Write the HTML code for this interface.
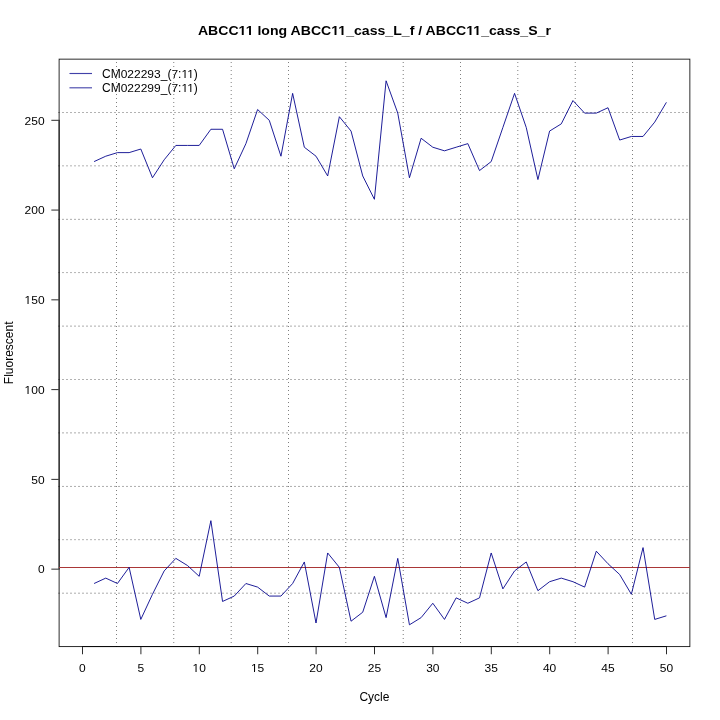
<!DOCTYPE html>
<html><head><meta charset="utf-8"><style>
html,body{margin:0;padding:0;background:#fff;}
svg{display:block;will-change:transform;}
text{font-family:"Liberation Sans",sans-serif;}
</style></head><body>
<svg width="720" height="720" viewBox="0 0 720 720">
<rect x="0" y="0" width="720" height="720" fill="#fff"/>
<text transform="translate(374.4,34.7) scale(1,0.93)" text-anchor="middle" font-weight="bold" font-size="14.1">ABCC11 long ABCC11_cass_L_f / ABCC11_cass_S_r</text>
<g shape-rendering="crispEdges"><path fill="#000" fill-opacity="0.025" d="M58 273h2v1h-2zM62 273h2v1h-2zM66 273h2v1h-2zM70 273h2v1h-2zM74 273h2v1h-2zM78 273h2v1h-2zM82 273h2v1h-2zM86 273h2v1h-2zM90 273h2v1h-2zM94 273h2v1h-2zM98 273h2v1h-2zM102 273h2v1h-2zM106 273h2v1h-2zM110 273h2v1h-2zM114 273h2v1h-2zM118 273h2v1h-2zM122 273h2v1h-2zM126 273h2v1h-2zM130 273h2v1h-2zM134 273h2v1h-2zM138 273h2v1h-2zM142 273h2v1h-2zM146 273h2v1h-2zM150 273h2v1h-2zM154 273h2v1h-2zM158 273h2v1h-2zM162 273h2v1h-2zM166 273h2v1h-2zM170 273h2v1h-2zM174 273h2v1h-2zM178 273h2v1h-2zM182 273h2v1h-2zM186 273h2v1h-2zM190 273h2v1h-2zM194 273h2v1h-2zM198 273h2v1h-2zM202 273h2v1h-2zM206 273h2v1h-2zM210 273h2v1h-2zM214 273h2v1h-2zM218 273h2v1h-2zM222 273h2v1h-2zM226 273h2v1h-2zM230 273h2v1h-2zM234 273h2v1h-2zM238 273h2v1h-2zM242 273h2v1h-2zM246 273h2v1h-2zM250 273h2v1h-2zM254 273h2v1h-2zM258 273h2v1h-2zM262 273h2v1h-2zM266 273h2v1h-2zM270 273h2v1h-2zM274 273h2v1h-2zM278 273h2v1h-2zM282 273h2v1h-2zM286 273h2v1h-2zM290 273h2v1h-2zM294 273h2v1h-2zM298 273h2v1h-2zM302 273h2v1h-2zM306 273h2v1h-2zM310 273h2v1h-2zM314 273h2v1h-2zM318 273h2v1h-2zM322 273h2v1h-2zM326 273h2v1h-2zM330 273h2v1h-2zM334 273h2v1h-2zM338 273h2v1h-2zM342 273h2v1h-2zM346 273h2v1h-2zM350 273h2v1h-2zM354 273h2v1h-2zM358 273h2v1h-2zM362 273h2v1h-2zM366 273h2v1h-2zM370 273h2v1h-2zM374 273h2v1h-2zM378 273h2v1h-2zM382 273h2v1h-2zM386 273h2v1h-2zM390 273h2v1h-2zM394 273h2v1h-2zM398 273h2v1h-2zM402 273h2v1h-2zM406 273h2v1h-2zM410 273h2v1h-2zM414 273h2v1h-2zM418 273h2v1h-2zM422 273h2v1h-2zM426 273h2v1h-2zM430 273h2v1h-2zM434 273h2v1h-2zM438 273h2v1h-2zM442 273h2v1h-2zM446 273h2v1h-2zM450 273h2v1h-2zM454 273h2v1h-2zM458 273h2v1h-2zM462 273h2v1h-2zM466 273h2v1h-2zM470 273h2v1h-2zM474 273h2v1h-2zM478 273h2v1h-2zM482 273h2v1h-2zM486 273h2v1h-2zM490 273h2v1h-2zM494 273h2v1h-2zM498 273h2v1h-2zM502 273h2v1h-2zM506 273h2v1h-2zM510 273h2v1h-2zM514 273h2v1h-2zM518 273h2v1h-2zM522 273h2v1h-2zM526 273h2v1h-2zM530 273h2v1h-2zM534 273h2v1h-2zM538 273h2v1h-2zM542 273h2v1h-2zM546 273h2v1h-2zM550 273h2v1h-2zM554 273h2v1h-2zM558 273h2v1h-2zM562 273h2v1h-2zM566 273h2v1h-2zM570 273h2v1h-2zM574 273h2v1h-2zM578 273h2v1h-2zM582 273h2v1h-2zM586 273h2v1h-2zM590 273h2v1h-2zM594 273h2v1h-2zM598 273h2v1h-2zM602 273h2v1h-2zM606 273h2v1h-2zM610 273h2v1h-2zM614 273h2v1h-2zM618 273h2v1h-2zM622 273h2v1h-2zM626 273h2v1h-2zM630 273h2v1h-2zM634 273h2v1h-2zM638 273h2v1h-2zM642 273h2v1h-2zM646 273h2v1h-2zM650 273h2v1h-2zM654 273h2v1h-2zM658 273h2v1h-2zM662 273h2v1h-2zM666 273h2v1h-2zM670 273h2v1h-2zM674 273h2v1h-2zM678 273h2v1h-2zM682 273h2v1h-2zM686 273h2v1h-2zM58 485h2v1h-2zM62 485h2v1h-2zM66 485h2v1h-2zM70 485h2v1h-2zM74 485h2v1h-2zM78 485h2v1h-2zM82 485h2v1h-2zM86 485h2v1h-2zM90 485h2v1h-2zM94 485h2v1h-2zM98 485h2v1h-2zM102 485h2v1h-2zM106 485h2v1h-2zM110 485h2v1h-2zM114 485h2v1h-2zM118 485h2v1h-2zM122 485h2v1h-2zM126 485h2v1h-2zM130 485h2v1h-2zM134 485h2v1h-2zM138 485h2v1h-2zM142 485h2v1h-2zM146 485h2v1h-2zM150 485h2v1h-2zM154 485h2v1h-2zM158 485h2v1h-2zM162 485h2v1h-2zM166 485h2v1h-2zM170 485h2v1h-2zM174 485h2v1h-2zM178 485h2v1h-2zM182 485h2v1h-2zM186 485h2v1h-2zM190 485h2v1h-2zM194 485h2v1h-2zM198 485h2v1h-2zM202 485h2v1h-2zM206 485h2v1h-2zM210 485h2v1h-2zM214 485h2v1h-2zM218 485h2v1h-2zM222 485h2v1h-2zM226 485h2v1h-2zM230 485h2v1h-2zM234 485h2v1h-2zM238 485h2v1h-2zM242 485h2v1h-2zM246 485h2v1h-2zM250 485h2v1h-2zM254 485h2v1h-2zM258 485h2v1h-2zM262 485h2v1h-2zM266 485h2v1h-2zM270 485h2v1h-2zM274 485h2v1h-2zM278 485h2v1h-2zM282 485h2v1h-2zM286 485h2v1h-2zM290 485h2v1h-2zM294 485h2v1h-2zM298 485h2v1h-2zM302 485h2v1h-2zM306 485h2v1h-2zM310 485h2v1h-2zM314 485h2v1h-2zM318 485h2v1h-2zM322 485h2v1h-2zM326 485h2v1h-2zM330 485h2v1h-2zM334 485h2v1h-2zM338 485h2v1h-2zM342 485h2v1h-2zM346 485h2v1h-2zM350 485h2v1h-2zM354 485h2v1h-2zM358 485h2v1h-2zM362 485h2v1h-2zM366 485h2v1h-2zM370 485h2v1h-2zM374 485h2v1h-2zM378 485h2v1h-2zM382 485h2v1h-2zM386 485h2v1h-2zM390 485h2v1h-2zM394 485h2v1h-2zM398 485h2v1h-2zM402 485h2v1h-2zM406 485h2v1h-2zM410 485h2v1h-2zM414 485h2v1h-2zM418 485h2v1h-2zM422 485h2v1h-2zM426 485h2v1h-2zM430 485h2v1h-2zM434 485h2v1h-2zM438 485h2v1h-2zM442 485h2v1h-2zM446 485h2v1h-2zM450 485h2v1h-2zM454 485h2v1h-2zM458 485h2v1h-2zM462 485h2v1h-2zM466 485h2v1h-2zM470 485h2v1h-2zM474 485h2v1h-2zM478 485h2v1h-2zM482 485h2v1h-2zM486 485h2v1h-2zM490 485h2v1h-2zM494 485h2v1h-2zM498 485h2v1h-2zM502 485h2v1h-2zM506 485h2v1h-2zM510 485h2v1h-2zM514 485h2v1h-2zM518 485h2v1h-2zM522 485h2v1h-2zM526 485h2v1h-2zM530 485h2v1h-2zM534 485h2v1h-2zM538 485h2v1h-2zM542 485h2v1h-2zM546 485h2v1h-2zM550 485h2v1h-2zM554 485h2v1h-2zM558 485h2v1h-2zM562 485h2v1h-2zM566 485h2v1h-2zM570 485h2v1h-2zM574 485h2v1h-2zM578 485h2v1h-2zM582 485h2v1h-2zM586 485h2v1h-2zM590 485h2v1h-2zM594 485h2v1h-2zM598 485h2v1h-2zM602 485h2v1h-2zM606 485h2v1h-2zM610 485h2v1h-2zM614 485h2v1h-2zM618 485h2v1h-2zM622 485h2v1h-2zM626 485h2v1h-2zM630 485h2v1h-2zM634 485h2v1h-2zM638 485h2v1h-2zM642 485h2v1h-2zM646 485h2v1h-2zM650 485h2v1h-2zM654 485h2v1h-2zM658 485h2v1h-2zM662 485h2v1h-2zM666 485h2v1h-2zM670 485h2v1h-2zM674 485h2v1h-2zM678 485h2v1h-2zM682 485h2v1h-2zM686 485h2v1h-2z"/><path fill="#000" fill-opacity="0.050" d="M58 218h2v1h-2zM62 218h2v1h-2zM66 218h2v1h-2zM70 218h2v1h-2zM74 218h2v1h-2zM78 218h2v1h-2zM82 218h2v1h-2zM86 218h2v1h-2zM90 218h2v1h-2zM94 218h2v1h-2zM98 218h2v1h-2zM102 218h2v1h-2zM106 218h2v1h-2zM110 218h2v1h-2zM114 218h2v1h-2zM118 218h2v1h-2zM122 218h2v1h-2zM126 218h2v1h-2zM130 218h2v1h-2zM134 218h2v1h-2zM138 218h2v1h-2zM142 218h2v1h-2zM146 218h2v1h-2zM150 218h2v1h-2zM154 218h2v1h-2zM158 218h2v1h-2zM162 218h2v1h-2zM166 218h2v1h-2zM170 218h2v1h-2zM174 218h2v1h-2zM178 218h2v1h-2zM182 218h2v1h-2zM186 218h2v1h-2zM190 218h2v1h-2zM194 218h2v1h-2zM198 218h2v1h-2zM202 218h2v1h-2zM206 218h2v1h-2zM210 218h2v1h-2zM214 218h2v1h-2zM218 218h2v1h-2zM222 218h2v1h-2zM226 218h2v1h-2zM230 218h2v1h-2zM234 218h2v1h-2zM238 218h2v1h-2zM242 218h2v1h-2zM246 218h2v1h-2zM250 218h2v1h-2zM254 218h2v1h-2zM258 218h2v1h-2zM262 218h2v1h-2zM266 218h2v1h-2zM270 218h2v1h-2zM274 218h2v1h-2zM278 218h2v1h-2zM282 218h2v1h-2zM286 218h2v1h-2zM290 218h2v1h-2zM294 218h2v1h-2zM298 218h2v1h-2zM302 218h2v1h-2zM306 218h2v1h-2zM310 218h2v1h-2zM314 218h2v1h-2zM318 218h2v1h-2zM322 218h2v1h-2zM326 218h2v1h-2zM330 218h2v1h-2zM334 218h2v1h-2zM338 218h2v1h-2zM342 218h2v1h-2zM346 218h2v1h-2zM350 218h2v1h-2zM354 218h2v1h-2zM358 218h2v1h-2zM362 218h2v1h-2zM366 218h2v1h-2zM370 218h2v1h-2zM374 218h2v1h-2zM378 218h2v1h-2zM382 218h2v1h-2zM386 218h2v1h-2zM390 218h2v1h-2zM394 218h2v1h-2zM398 218h2v1h-2zM402 218h2v1h-2zM406 218h2v1h-2zM410 218h2v1h-2zM414 218h2v1h-2zM418 218h2v1h-2zM422 218h2v1h-2zM426 218h2v1h-2zM430 218h2v1h-2zM434 218h2v1h-2zM438 218h2v1h-2zM442 218h2v1h-2zM446 218h2v1h-2zM450 218h2v1h-2zM454 218h2v1h-2zM458 218h2v1h-2zM462 218h2v1h-2zM466 218h2v1h-2zM470 218h2v1h-2zM474 218h2v1h-2zM478 218h2v1h-2zM482 218h2v1h-2zM486 218h2v1h-2zM490 218h2v1h-2zM494 218h2v1h-2zM498 218h2v1h-2zM502 218h2v1h-2zM506 218h2v1h-2zM510 218h2v1h-2zM514 218h2v1h-2zM518 218h2v1h-2zM522 218h2v1h-2zM526 218h2v1h-2zM530 218h2v1h-2zM534 218h2v1h-2zM538 218h2v1h-2zM542 218h2v1h-2zM546 218h2v1h-2zM550 218h2v1h-2zM554 218h2v1h-2zM558 218h2v1h-2zM562 218h2v1h-2zM566 218h2v1h-2zM570 218h2v1h-2zM574 218h2v1h-2zM578 218h2v1h-2zM582 218h2v1h-2zM586 218h2v1h-2zM590 218h2v1h-2zM594 218h2v1h-2zM598 218h2v1h-2zM602 218h2v1h-2zM606 218h2v1h-2zM610 218h2v1h-2zM614 218h2v1h-2zM618 218h2v1h-2zM622 218h2v1h-2zM626 218h2v1h-2zM630 218h2v1h-2zM634 218h2v1h-2zM638 218h2v1h-2zM642 218h2v1h-2zM646 218h2v1h-2zM650 218h2v1h-2zM654 218h2v1h-2zM658 218h2v1h-2zM662 218h2v1h-2zM666 218h2v1h-2zM670 218h2v1h-2zM674 218h2v1h-2zM678 218h2v1h-2zM682 218h2v1h-2zM686 218h2v1h-2zM58 540h2v1h-2zM62 540h2v1h-2zM66 540h2v1h-2zM70 540h2v1h-2zM74 540h2v1h-2zM78 540h2v1h-2zM82 540h2v1h-2zM86 540h2v1h-2zM90 540h2v1h-2zM94 540h2v1h-2zM98 540h2v1h-2zM102 540h2v1h-2zM106 540h2v1h-2zM110 540h2v1h-2zM114 540h2v1h-2zM118 540h2v1h-2zM122 540h2v1h-2zM126 540h2v1h-2zM130 540h2v1h-2zM134 540h2v1h-2zM138 540h2v1h-2zM142 540h2v1h-2zM146 540h2v1h-2zM150 540h2v1h-2zM154 540h2v1h-2zM158 540h2v1h-2zM162 540h2v1h-2zM166 540h2v1h-2zM170 540h2v1h-2zM174 540h2v1h-2zM178 540h2v1h-2zM182 540h2v1h-2zM186 540h2v1h-2zM190 540h2v1h-2zM194 540h2v1h-2zM198 540h2v1h-2zM202 540h2v1h-2zM206 540h2v1h-2zM210 540h2v1h-2zM214 540h2v1h-2zM218 540h2v1h-2zM222 540h2v1h-2zM226 540h2v1h-2zM230 540h2v1h-2zM234 540h2v1h-2zM238 540h2v1h-2zM242 540h2v1h-2zM246 540h2v1h-2zM250 540h2v1h-2zM254 540h2v1h-2zM258 540h2v1h-2zM262 540h2v1h-2zM266 540h2v1h-2zM270 540h2v1h-2zM274 540h2v1h-2zM278 540h2v1h-2zM282 540h2v1h-2zM286 540h2v1h-2zM290 540h2v1h-2zM294 540h2v1h-2zM298 540h2v1h-2zM302 540h2v1h-2zM306 540h2v1h-2zM310 540h2v1h-2zM314 540h2v1h-2zM318 540h2v1h-2zM322 540h2v1h-2zM326 540h2v1h-2zM330 540h2v1h-2zM334 540h2v1h-2zM338 540h2v1h-2zM342 540h2v1h-2zM346 540h2v1h-2zM350 540h2v1h-2zM354 540h2v1h-2zM358 540h2v1h-2zM362 540h2v1h-2zM366 540h2v1h-2zM370 540h2v1h-2zM374 540h2v1h-2zM378 540h2v1h-2zM382 540h2v1h-2zM386 540h2v1h-2zM390 540h2v1h-2zM394 540h2v1h-2zM398 540h2v1h-2zM402 540h2v1h-2zM406 540h2v1h-2zM410 540h2v1h-2zM414 540h2v1h-2zM418 540h2v1h-2zM422 540h2v1h-2zM426 540h2v1h-2zM430 540h2v1h-2zM434 540h2v1h-2zM438 540h2v1h-2zM442 540h2v1h-2zM446 540h2v1h-2zM450 540h2v1h-2zM454 540h2v1h-2zM458 540h2v1h-2zM462 540h2v1h-2zM466 540h2v1h-2zM470 540h2v1h-2zM474 540h2v1h-2zM478 540h2v1h-2zM482 540h2v1h-2zM486 540h2v1h-2zM490 540h2v1h-2zM494 540h2v1h-2zM498 540h2v1h-2zM502 540h2v1h-2zM506 540h2v1h-2zM510 540h2v1h-2zM514 540h2v1h-2zM518 540h2v1h-2zM522 540h2v1h-2zM526 540h2v1h-2zM530 540h2v1h-2zM534 540h2v1h-2zM538 540h2v1h-2zM542 540h2v1h-2zM546 540h2v1h-2zM550 540h2v1h-2zM554 540h2v1h-2zM558 540h2v1h-2zM562 540h2v1h-2zM566 540h2v1h-2zM570 540h2v1h-2zM574 540h2v1h-2zM578 540h2v1h-2zM582 540h2v1h-2zM586 540h2v1h-2zM590 540h2v1h-2zM594 540h2v1h-2zM598 540h2v1h-2zM602 540h2v1h-2zM606 540h2v1h-2zM610 540h2v1h-2zM614 540h2v1h-2zM618 540h2v1h-2zM622 540h2v1h-2zM626 540h2v1h-2zM630 540h2v1h-2zM634 540h2v1h-2zM638 540h2v1h-2zM642 540h2v1h-2zM646 540h2v1h-2zM650 540h2v1h-2zM654 540h2v1h-2zM658 540h2v1h-2zM662 540h2v1h-2zM666 540h2v1h-2zM670 540h2v1h-2zM674 540h2v1h-2zM678 540h2v1h-2zM682 540h2v1h-2zM686 540h2v1h-2z"/><path fill="#000" fill-opacity="0.100" d="M58 166h2v1h-2zM62 166h2v1h-2zM66 166h2v1h-2zM70 166h2v1h-2zM74 166h2v1h-2zM78 166h2v1h-2zM82 166h2v1h-2zM86 166h2v1h-2zM90 166h2v1h-2zM94 166h2v1h-2zM98 166h2v1h-2zM102 166h2v1h-2zM106 166h2v1h-2zM110 166h2v1h-2zM114 166h2v1h-2zM118 166h2v1h-2zM122 166h2v1h-2zM126 166h2v1h-2zM130 166h2v1h-2zM134 166h2v1h-2zM138 166h2v1h-2zM142 166h2v1h-2zM146 166h2v1h-2zM150 166h2v1h-2zM154 166h2v1h-2zM158 166h2v1h-2zM162 166h2v1h-2zM166 166h2v1h-2zM170 166h2v1h-2zM174 166h2v1h-2zM178 166h2v1h-2zM182 166h2v1h-2zM186 166h2v1h-2zM190 166h2v1h-2zM194 166h2v1h-2zM198 166h2v1h-2zM202 166h2v1h-2zM206 166h2v1h-2zM210 166h2v1h-2zM214 166h2v1h-2zM218 166h2v1h-2zM222 166h2v1h-2zM226 166h2v1h-2zM230 166h2v1h-2zM234 166h2v1h-2zM238 166h2v1h-2zM242 166h2v1h-2zM246 166h2v1h-2zM250 166h2v1h-2zM254 166h2v1h-2zM258 166h2v1h-2zM262 166h2v1h-2zM266 166h2v1h-2zM270 166h2v1h-2zM274 166h2v1h-2zM278 166h2v1h-2zM282 166h2v1h-2zM286 166h2v1h-2zM290 166h2v1h-2zM294 166h2v1h-2zM298 166h2v1h-2zM302 166h2v1h-2zM306 166h2v1h-2zM310 166h2v1h-2zM314 166h2v1h-2zM318 166h2v1h-2zM322 166h2v1h-2zM326 166h2v1h-2zM330 166h2v1h-2zM334 166h2v1h-2zM338 166h2v1h-2zM342 166h2v1h-2zM346 166h2v1h-2zM350 166h2v1h-2zM354 166h2v1h-2zM358 166h2v1h-2zM362 166h2v1h-2zM366 166h2v1h-2zM370 166h2v1h-2zM374 166h2v1h-2zM378 166h2v1h-2zM382 166h2v1h-2zM386 166h2v1h-2zM390 166h2v1h-2zM394 166h2v1h-2zM398 166h2v1h-2zM402 166h2v1h-2zM406 166h2v1h-2zM410 166h2v1h-2zM414 166h2v1h-2zM418 166h2v1h-2zM422 166h2v1h-2zM426 166h2v1h-2zM430 166h2v1h-2zM434 166h2v1h-2zM438 166h2v1h-2zM442 166h2v1h-2zM446 166h2v1h-2zM450 166h2v1h-2zM454 166h2v1h-2zM458 166h2v1h-2zM462 166h2v1h-2zM466 166h2v1h-2zM470 166h2v1h-2zM474 166h2v1h-2zM478 166h2v1h-2zM482 166h2v1h-2zM486 166h2v1h-2zM490 166h2v1h-2zM494 166h2v1h-2zM498 166h2v1h-2zM502 166h2v1h-2zM506 166h2v1h-2zM510 166h2v1h-2zM514 166h2v1h-2zM518 166h2v1h-2zM522 166h2v1h-2zM526 166h2v1h-2zM530 166h2v1h-2zM534 166h2v1h-2zM538 166h2v1h-2zM542 166h2v1h-2zM546 166h2v1h-2zM550 166h2v1h-2zM554 166h2v1h-2zM558 166h2v1h-2zM562 166h2v1h-2zM566 166h2v1h-2zM570 166h2v1h-2zM574 166h2v1h-2zM578 166h2v1h-2zM582 166h2v1h-2zM586 166h2v1h-2zM590 166h2v1h-2zM594 166h2v1h-2zM598 166h2v1h-2zM602 166h2v1h-2zM606 166h2v1h-2zM610 166h2v1h-2zM614 166h2v1h-2zM618 166h2v1h-2zM622 166h2v1h-2zM626 166h2v1h-2zM630 166h2v1h-2zM634 166h2v1h-2zM638 166h2v1h-2zM642 166h2v1h-2zM646 166h2v1h-2zM650 166h2v1h-2zM654 166h2v1h-2zM658 166h2v1h-2zM662 166h2v1h-2zM666 166h2v1h-2zM670 166h2v1h-2zM674 166h2v1h-2zM678 166h2v1h-2zM682 166h2v1h-2zM686 166h2v1h-2zM58 592h2v1h-2zM62 592h2v1h-2zM66 592h2v1h-2zM70 592h2v1h-2zM74 592h2v1h-2zM78 592h2v1h-2zM82 592h2v1h-2zM86 592h2v1h-2zM90 592h2v1h-2zM94 592h2v1h-2zM98 592h2v1h-2zM102 592h2v1h-2zM106 592h2v1h-2zM110 592h2v1h-2zM114 592h2v1h-2zM118 592h2v1h-2zM122 592h2v1h-2zM126 592h2v1h-2zM130 592h2v1h-2zM134 592h2v1h-2zM138 592h2v1h-2zM142 592h2v1h-2zM146 592h2v1h-2zM150 592h2v1h-2zM154 592h2v1h-2zM158 592h2v1h-2zM162 592h2v1h-2zM166 592h2v1h-2zM170 592h2v1h-2zM174 592h2v1h-2zM178 592h2v1h-2zM182 592h2v1h-2zM186 592h2v1h-2zM190 592h2v1h-2zM194 592h2v1h-2zM198 592h2v1h-2zM202 592h2v1h-2zM206 592h2v1h-2zM210 592h2v1h-2zM214 592h2v1h-2zM218 592h2v1h-2zM222 592h2v1h-2zM226 592h2v1h-2zM230 592h2v1h-2zM234 592h2v1h-2zM238 592h2v1h-2zM242 592h2v1h-2zM246 592h2v1h-2zM250 592h2v1h-2zM254 592h2v1h-2zM258 592h2v1h-2zM262 592h2v1h-2zM266 592h2v1h-2zM270 592h2v1h-2zM274 592h2v1h-2zM278 592h2v1h-2zM282 592h2v1h-2zM286 592h2v1h-2zM290 592h2v1h-2zM294 592h2v1h-2zM298 592h2v1h-2zM302 592h2v1h-2zM306 592h2v1h-2zM310 592h2v1h-2zM314 592h2v1h-2zM318 592h2v1h-2zM322 592h2v1h-2zM326 592h2v1h-2zM330 592h2v1h-2zM334 592h2v1h-2zM338 592h2v1h-2zM342 592h2v1h-2zM346 592h2v1h-2zM350 592h2v1h-2zM354 592h2v1h-2zM358 592h2v1h-2zM362 592h2v1h-2zM366 592h2v1h-2zM370 592h2v1h-2zM374 592h2v1h-2zM378 592h2v1h-2zM382 592h2v1h-2zM386 592h2v1h-2zM390 592h2v1h-2zM394 592h2v1h-2zM398 592h2v1h-2zM402 592h2v1h-2zM406 592h2v1h-2zM410 592h2v1h-2zM414 592h2v1h-2zM418 592h2v1h-2zM422 592h2v1h-2zM426 592h2v1h-2zM430 592h2v1h-2zM434 592h2v1h-2zM438 592h2v1h-2zM442 592h2v1h-2zM446 592h2v1h-2zM450 592h2v1h-2zM454 592h2v1h-2zM458 592h2v1h-2zM462 592h2v1h-2zM466 592h2v1h-2zM470 592h2v1h-2zM474 592h2v1h-2zM478 592h2v1h-2zM482 592h2v1h-2zM486 592h2v1h-2zM490 592h2v1h-2zM494 592h2v1h-2zM498 592h2v1h-2zM502 592h2v1h-2zM506 592h2v1h-2zM510 592h2v1h-2zM514 592h2v1h-2zM518 592h2v1h-2zM522 592h2v1h-2zM526 592h2v1h-2zM530 592h2v1h-2zM534 592h2v1h-2zM538 592h2v1h-2zM542 592h2v1h-2zM546 592h2v1h-2zM550 592h2v1h-2zM554 592h2v1h-2zM558 592h2v1h-2zM562 592h2v1h-2zM566 592h2v1h-2zM570 592h2v1h-2zM574 592h2v1h-2zM578 592h2v1h-2zM582 592h2v1h-2zM586 592h2v1h-2zM590 592h2v1h-2zM594 592h2v1h-2zM598 592h2v1h-2zM602 592h2v1h-2zM606 592h2v1h-2zM610 592h2v1h-2zM614 592h2v1h-2zM618 592h2v1h-2zM622 592h2v1h-2zM626 592h2v1h-2zM630 592h2v1h-2zM634 592h2v1h-2zM638 592h2v1h-2zM642 592h2v1h-2zM646 592h2v1h-2zM650 592h2v1h-2zM654 592h2v1h-2zM658 592h2v1h-2zM662 592h2v1h-2zM666 592h2v1h-2zM670 592h2v1h-2zM674 592h2v1h-2zM678 592h2v1h-2zM682 592h2v1h-2zM686 592h2v1h-2z"/><path fill="#000" fill-opacity="0.125" d="M174 62h1v1h-1zM174 66h1v1h-1zM174 70h1v1h-1zM174 74h1v1h-1zM174 78h1v1h-1zM174 82h1v1h-1zM174 86h1v1h-1zM174 90h1v1h-1zM174 94h1v1h-1zM174 98h1v1h-1zM174 102h1v1h-1zM174 106h1v1h-1zM174 110h1v1h-1zM174 114h1v1h-1zM174 118h1v1h-1zM174 122h1v1h-1zM174 126h1v1h-1zM174 130h1v1h-1zM174 134h1v1h-1zM174 138h1v1h-1zM174 142h1v1h-1zM174 146h1v1h-1zM174 150h1v1h-1zM174 154h1v1h-1zM174 158h1v1h-1zM174 162h1v1h-1zM174 166h1v1h-1zM174 170h1v1h-1zM174 174h1v1h-1zM174 178h1v1h-1zM174 182h1v1h-1zM174 186h1v1h-1zM174 190h1v1h-1zM174 194h1v1h-1zM174 198h1v1h-1zM174 202h1v1h-1zM174 206h1v1h-1zM174 210h1v1h-1zM174 214h1v1h-1zM174 218h1v1h-1zM174 222h1v1h-1zM174 226h1v1h-1zM174 230h1v1h-1zM174 234h1v1h-1zM174 238h1v1h-1zM174 242h1v1h-1zM174 246h1v1h-1zM174 250h1v1h-1zM174 254h1v1h-1zM174 258h1v1h-1zM174 262h1v1h-1zM174 266h1v1h-1zM174 270h1v1h-1zM174 274h1v1h-1zM174 278h1v1h-1zM174 282h1v1h-1zM174 286h1v1h-1zM174 290h1v1h-1zM174 294h1v1h-1zM174 298h1v1h-1zM174 302h1v1h-1zM174 306h1v1h-1zM174 310h1v1h-1zM174 314h1v1h-1zM174 318h1v1h-1zM174 322h1v1h-1zM174 326h1v1h-1zM174 330h1v1h-1zM174 334h1v1h-1zM174 338h1v1h-1zM174 342h1v1h-1zM174 346h1v1h-1zM174 350h1v1h-1zM174 354h1v1h-1zM174 358h1v1h-1zM174 362h1v1h-1zM174 366h1v1h-1zM174 370h1v1h-1zM174 374h1v1h-1zM174 378h1v1h-1zM174 382h1v1h-1zM174 386h1v1h-1zM174 390h1v1h-1zM174 394h1v1h-1zM174 398h1v1h-1zM174 402h1v1h-1zM174 406h1v1h-1zM174 410h1v1h-1zM174 414h1v1h-1zM174 418h1v1h-1zM174 422h1v1h-1zM174 426h1v1h-1zM174 430h1v1h-1zM174 434h1v1h-1zM174 438h1v1h-1zM174 442h1v1h-1zM174 446h1v1h-1zM174 450h1v1h-1zM174 454h1v1h-1zM174 458h1v1h-1zM174 462h1v1h-1zM174 466h1v1h-1zM174 470h1v1h-1zM174 474h1v1h-1zM174 478h1v1h-1zM174 482h1v1h-1zM174 486h1v1h-1zM174 490h1v1h-1zM174 494h1v1h-1zM174 498h1v1h-1zM174 502h1v1h-1zM174 506h1v1h-1zM174 510h1v1h-1zM174 514h1v1h-1zM174 518h1v1h-1zM174 522h1v1h-1zM174 526h1v1h-1zM174 530h1v1h-1zM174 534h1v1h-1zM174 538h1v1h-1zM174 542h1v1h-1zM174 546h1v1h-1zM174 550h1v1h-1zM174 554h1v1h-1zM174 558h1v1h-1zM174 562h1v1h-1zM174 566h1v1h-1zM174 570h1v1h-1zM174 574h1v1h-1zM174 578h1v1h-1zM174 582h1v1h-1zM174 586h1v1h-1zM174 590h1v1h-1zM174 594h1v1h-1zM174 598h1v1h-1zM174 602h1v1h-1zM174 606h1v1h-1zM174 610h1v1h-1zM174 614h1v1h-1zM174 618h1v1h-1zM174 622h1v1h-1zM174 626h1v1h-1zM174 630h1v1h-1zM174 634h1v1h-1zM174 638h1v1h-1zM174 642h1v1h-1zM174 646h1v1h-1zM574 62h1v1h-1zM574 66h1v1h-1zM574 70h1v1h-1zM574 74h1v1h-1zM574 78h1v1h-1zM574 82h1v1h-1zM574 86h1v1h-1zM574 90h1v1h-1zM574 94h1v1h-1zM574 98h1v1h-1zM574 102h1v1h-1zM574 106h1v1h-1zM574 110h1v1h-1zM574 114h1v1h-1zM574 118h1v1h-1zM574 122h1v1h-1zM574 126h1v1h-1zM574 130h1v1h-1zM574 134h1v1h-1zM574 138h1v1h-1zM574 142h1v1h-1zM574 146h1v1h-1zM574 150h1v1h-1zM574 154h1v1h-1zM574 158h1v1h-1zM574 162h1v1h-1zM574 166h1v1h-1zM574 170h1v1h-1zM574 174h1v1h-1zM574 178h1v1h-1zM574 182h1v1h-1zM574 186h1v1h-1zM574 190h1v1h-1zM574 194h1v1h-1zM574 198h1v1h-1zM574 202h1v1h-1zM574 206h1v1h-1zM574 210h1v1h-1zM574 214h1v1h-1zM574 218h1v1h-1zM574 222h1v1h-1zM574 226h1v1h-1zM574 230h1v1h-1zM574 234h1v1h-1zM574 238h1v1h-1zM574 242h1v1h-1zM574 246h1v1h-1zM574 250h1v1h-1zM574 254h1v1h-1zM574 258h1v1h-1zM574 262h1v1h-1zM574 266h1v1h-1zM574 270h1v1h-1zM574 274h1v1h-1zM574 278h1v1h-1zM574 282h1v1h-1zM574 286h1v1h-1zM574 290h1v1h-1zM574 294h1v1h-1zM574 298h1v1h-1zM574 302h1v1h-1zM574 306h1v1h-1zM574 310h1v1h-1zM574 314h1v1h-1zM574 318h1v1h-1zM574 322h1v1h-1zM574 326h1v1h-1zM574 330h1v1h-1zM574 334h1v1h-1zM574 338h1v1h-1zM574 342h1v1h-1zM574 346h1v1h-1zM574 350h1v1h-1zM574 354h1v1h-1zM574 358h1v1h-1zM574 362h1v1h-1zM574 366h1v1h-1zM574 370h1v1h-1zM574 374h1v1h-1zM574 378h1v1h-1zM574 382h1v1h-1zM574 386h1v1h-1zM574 390h1v1h-1zM574 394h1v1h-1zM574 398h1v1h-1zM574 402h1v1h-1zM574 406h1v1h-1zM574 410h1v1h-1zM574 414h1v1h-1zM574 418h1v1h-1zM574 422h1v1h-1zM574 426h1v1h-1zM574 430h1v1h-1zM574 434h1v1h-1zM574 438h1v1h-1zM574 442h1v1h-1zM574 446h1v1h-1zM574 450h1v1h-1zM574 454h1v1h-1zM574 458h1v1h-1zM574 462h1v1h-1zM574 466h1v1h-1zM574 470h1v1h-1zM574 474h1v1h-1zM574 478h1v1h-1zM574 482h1v1h-1zM574 486h1v1h-1zM574 490h1v1h-1zM574 494h1v1h-1zM574 498h1v1h-1zM574 502h1v1h-1zM574 506h1v1h-1zM574 510h1v1h-1zM574 514h1v1h-1zM574 518h1v1h-1zM574 522h1v1h-1zM574 526h1v1h-1zM574 530h1v1h-1zM574 534h1v1h-1zM574 538h1v1h-1zM574 542h1v1h-1zM574 546h1v1h-1zM574 550h1v1h-1zM574 554h1v1h-1zM574 558h1v1h-1zM574 562h1v1h-1zM574 566h1v1h-1zM574 570h1v1h-1zM574 574h1v1h-1zM574 578h1v1h-1zM574 582h1v1h-1zM574 586h1v1h-1zM574 590h1v1h-1zM574 594h1v1h-1zM574 598h1v1h-1zM574 602h1v1h-1zM574 606h1v1h-1zM574 610h1v1h-1zM574 614h1v1h-1zM574 618h1v1h-1zM574 622h1v1h-1zM574 626h1v1h-1zM574 630h1v1h-1zM574 634h1v1h-1zM574 638h1v1h-1zM574 642h1v1h-1zM574 646h1v1h-1zM58 325h2v1h-2zM62 325h2v1h-2zM66 325h2v1h-2zM70 325h2v1h-2zM74 325h2v1h-2zM78 325h2v1h-2zM82 325h2v1h-2zM86 325h2v1h-2zM90 325h2v1h-2zM94 325h2v1h-2zM98 325h2v1h-2zM102 325h2v1h-2zM106 325h2v1h-2zM110 325h2v1h-2zM114 325h2v1h-2zM118 325h2v1h-2zM122 325h2v1h-2zM126 325h2v1h-2zM130 325h2v1h-2zM134 325h2v1h-2zM138 325h2v1h-2zM142 325h2v1h-2zM146 325h2v1h-2zM150 325h2v1h-2zM154 325h2v1h-2zM158 325h2v1h-2zM162 325h2v1h-2zM166 325h2v1h-2zM170 325h2v1h-2zM174 325h2v1h-2zM178 325h2v1h-2zM182 325h2v1h-2zM186 325h2v1h-2zM190 325h2v1h-2zM194 325h2v1h-2zM198 325h2v1h-2zM202 325h2v1h-2zM206 325h2v1h-2zM210 325h2v1h-2zM214 325h2v1h-2zM218 325h2v1h-2zM222 325h2v1h-2zM226 325h2v1h-2zM230 325h2v1h-2zM234 325h2v1h-2zM238 325h2v1h-2zM242 325h2v1h-2zM246 325h2v1h-2zM250 325h2v1h-2zM254 325h2v1h-2zM258 325h2v1h-2zM262 325h2v1h-2zM266 325h2v1h-2zM270 325h2v1h-2zM274 325h2v1h-2zM278 325h2v1h-2zM282 325h2v1h-2zM286 325h2v1h-2zM290 325h2v1h-2zM294 325h2v1h-2zM298 325h2v1h-2zM302 325h2v1h-2zM306 325h2v1h-2zM310 325h2v1h-2zM314 325h2v1h-2zM318 325h2v1h-2zM322 325h2v1h-2zM326 325h2v1h-2zM330 325h2v1h-2zM334 325h2v1h-2zM338 325h2v1h-2zM342 325h2v1h-2zM346 325h2v1h-2zM350 325h2v1h-2zM354 325h2v1h-2zM358 325h2v1h-2zM362 325h2v1h-2zM366 325h2v1h-2zM370 325h2v1h-2zM374 325h2v1h-2zM378 325h2v1h-2zM382 325h2v1h-2zM386 325h2v1h-2zM390 325h2v1h-2zM394 325h2v1h-2zM398 325h2v1h-2zM402 325h2v1h-2zM406 325h2v1h-2zM410 325h2v1h-2zM414 325h2v1h-2zM418 325h2v1h-2zM422 325h2v1h-2zM426 325h2v1h-2zM430 325h2v1h-2zM434 325h2v1h-2zM438 325h2v1h-2zM442 325h2v1h-2zM446 325h2v1h-2zM450 325h2v1h-2zM454 325h2v1h-2zM458 325h2v1h-2zM462 325h2v1h-2zM466 325h2v1h-2zM470 325h2v1h-2zM474 325h2v1h-2zM478 325h2v1h-2zM482 325h2v1h-2zM486 325h2v1h-2zM490 325h2v1h-2zM494 325h2v1h-2zM498 325h2v1h-2zM502 325h2v1h-2zM506 325h2v1h-2zM510 325h2v1h-2zM514 325h2v1h-2zM518 325h2v1h-2zM522 325h2v1h-2zM526 325h2v1h-2zM530 325h2v1h-2zM534 325h2v1h-2zM538 325h2v1h-2zM542 325h2v1h-2zM546 325h2v1h-2zM550 325h2v1h-2zM554 325h2v1h-2zM558 325h2v1h-2zM562 325h2v1h-2zM566 325h2v1h-2zM570 325h2v1h-2zM574 325h2v1h-2zM578 325h2v1h-2zM582 325h2v1h-2zM586 325h2v1h-2zM590 325h2v1h-2zM594 325h2v1h-2zM598 325h2v1h-2zM602 325h2v1h-2zM606 325h2v1h-2zM610 325h2v1h-2zM614 325h2v1h-2zM618 325h2v1h-2zM622 325h2v1h-2zM626 325h2v1h-2zM630 325h2v1h-2zM634 325h2v1h-2zM638 325h2v1h-2zM642 325h2v1h-2zM646 325h2v1h-2zM650 325h2v1h-2zM654 325h2v1h-2zM658 325h2v1h-2zM662 325h2v1h-2zM666 325h2v1h-2zM670 325h2v1h-2zM674 325h2v1h-2zM678 325h2v1h-2zM682 325h2v1h-2zM686 325h2v1h-2zM58 433h2v1h-2zM62 433h2v1h-2zM66 433h2v1h-2zM70 433h2v1h-2zM74 433h2v1h-2zM78 433h2v1h-2zM82 433h2v1h-2zM86 433h2v1h-2zM90 433h2v1h-2zM94 433h2v1h-2zM98 433h2v1h-2zM102 433h2v1h-2zM106 433h2v1h-2zM110 433h2v1h-2zM114 433h2v1h-2zM118 433h2v1h-2zM122 433h2v1h-2zM126 433h2v1h-2zM130 433h2v1h-2zM134 433h2v1h-2zM138 433h2v1h-2zM142 433h2v1h-2zM146 433h2v1h-2zM150 433h2v1h-2zM154 433h2v1h-2zM158 433h2v1h-2zM162 433h2v1h-2zM166 433h2v1h-2zM170 433h2v1h-2zM174 433h2v1h-2zM178 433h2v1h-2zM182 433h2v1h-2zM186 433h2v1h-2zM190 433h2v1h-2zM194 433h2v1h-2zM198 433h2v1h-2zM202 433h2v1h-2zM206 433h2v1h-2zM210 433h2v1h-2zM214 433h2v1h-2zM218 433h2v1h-2zM222 433h2v1h-2zM226 433h2v1h-2zM230 433h2v1h-2zM234 433h2v1h-2zM238 433h2v1h-2zM242 433h2v1h-2zM246 433h2v1h-2zM250 433h2v1h-2zM254 433h2v1h-2zM258 433h2v1h-2zM262 433h2v1h-2zM266 433h2v1h-2zM270 433h2v1h-2zM274 433h2v1h-2zM278 433h2v1h-2zM282 433h2v1h-2zM286 433h2v1h-2zM290 433h2v1h-2zM294 433h2v1h-2zM298 433h2v1h-2zM302 433h2v1h-2zM306 433h2v1h-2zM310 433h2v1h-2zM314 433h2v1h-2zM318 433h2v1h-2zM322 433h2v1h-2zM326 433h2v1h-2zM330 433h2v1h-2zM334 433h2v1h-2zM338 433h2v1h-2zM342 433h2v1h-2zM346 433h2v1h-2zM350 433h2v1h-2zM354 433h2v1h-2zM358 433h2v1h-2zM362 433h2v1h-2zM366 433h2v1h-2zM370 433h2v1h-2zM374 433h2v1h-2zM378 433h2v1h-2zM382 433h2v1h-2zM386 433h2v1h-2zM390 433h2v1h-2zM394 433h2v1h-2zM398 433h2v1h-2zM402 433h2v1h-2zM406 433h2v1h-2zM410 433h2v1h-2zM414 433h2v1h-2zM418 433h2v1h-2zM422 433h2v1h-2zM426 433h2v1h-2zM430 433h2v1h-2zM434 433h2v1h-2zM438 433h2v1h-2zM442 433h2v1h-2zM446 433h2v1h-2zM450 433h2v1h-2zM454 433h2v1h-2zM458 433h2v1h-2zM462 433h2v1h-2zM466 433h2v1h-2zM470 433h2v1h-2zM474 433h2v1h-2zM478 433h2v1h-2zM482 433h2v1h-2zM486 433h2v1h-2zM490 433h2v1h-2zM494 433h2v1h-2zM498 433h2v1h-2zM502 433h2v1h-2zM506 433h2v1h-2zM510 433h2v1h-2zM514 433h2v1h-2zM518 433h2v1h-2zM522 433h2v1h-2zM526 433h2v1h-2zM530 433h2v1h-2zM534 433h2v1h-2zM538 433h2v1h-2zM542 433h2v1h-2zM546 433h2v1h-2zM550 433h2v1h-2zM554 433h2v1h-2zM558 433h2v1h-2zM562 433h2v1h-2zM566 433h2v1h-2zM570 433h2v1h-2zM574 433h2v1h-2zM578 433h2v1h-2zM582 433h2v1h-2zM586 433h2v1h-2zM590 433h2v1h-2zM594 433h2v1h-2zM598 433h2v1h-2zM602 433h2v1h-2zM606 433h2v1h-2zM610 433h2v1h-2zM614 433h2v1h-2zM618 433h2v1h-2zM622 433h2v1h-2zM626 433h2v1h-2zM630 433h2v1h-2zM634 433h2v1h-2zM638 433h2v1h-2zM642 433h2v1h-2zM646 433h2v1h-2zM650 433h2v1h-2zM654 433h2v1h-2zM658 433h2v1h-2zM662 433h2v1h-2zM666 433h2v1h-2zM670 433h2v1h-2zM674 433h2v1h-2zM678 433h2v1h-2zM682 433h2v1h-2zM686 433h2v1h-2z"/><path fill="#000" fill-opacity="0.150" d="M230 62h1v1h-1zM230 66h1v1h-1zM230 70h1v1h-1zM230 74h1v1h-1zM230 78h1v1h-1zM230 82h1v1h-1zM230 86h1v1h-1zM230 90h1v1h-1zM230 94h1v1h-1zM230 98h1v1h-1zM230 102h1v1h-1zM230 106h1v1h-1zM230 110h1v1h-1zM230 114h1v1h-1zM230 118h1v1h-1zM230 122h1v1h-1zM230 126h1v1h-1zM230 130h1v1h-1zM230 134h1v1h-1zM230 138h1v1h-1zM230 142h1v1h-1zM230 146h1v1h-1zM230 150h1v1h-1zM230 154h1v1h-1zM230 158h1v1h-1zM230 162h1v1h-1zM230 166h1v1h-1zM230 170h1v1h-1zM230 174h1v1h-1zM230 178h1v1h-1zM230 182h1v1h-1zM230 186h1v1h-1zM230 190h1v1h-1zM230 194h1v1h-1zM230 198h1v1h-1zM230 202h1v1h-1zM230 206h1v1h-1zM230 210h1v1h-1zM230 214h1v1h-1zM230 218h1v1h-1zM230 222h1v1h-1zM230 226h1v1h-1zM230 230h1v1h-1zM230 234h1v1h-1zM230 238h1v1h-1zM230 242h1v1h-1zM230 246h1v1h-1zM230 250h1v1h-1zM230 254h1v1h-1zM230 258h1v1h-1zM230 262h1v1h-1zM230 266h1v1h-1zM230 270h1v1h-1zM230 274h1v1h-1zM230 278h1v1h-1zM230 282h1v1h-1zM230 286h1v1h-1zM230 290h1v1h-1zM230 294h1v1h-1zM230 298h1v1h-1zM230 302h1v1h-1zM230 306h1v1h-1zM230 310h1v1h-1zM230 314h1v1h-1zM230 318h1v1h-1zM230 322h1v1h-1zM230 326h1v1h-1zM230 330h1v1h-1zM230 334h1v1h-1zM230 338h1v1h-1zM230 342h1v1h-1zM230 346h1v1h-1zM230 350h1v1h-1zM230 354h1v1h-1zM230 358h1v1h-1zM230 362h1v1h-1zM230 366h1v1h-1zM230 370h1v1h-1zM230 374h1v1h-1zM230 378h1v1h-1zM230 382h1v1h-1zM230 386h1v1h-1zM230 390h1v1h-1zM230 394h1v1h-1zM230 398h1v1h-1zM230 402h1v1h-1zM230 406h1v1h-1zM230 410h1v1h-1zM230 414h1v1h-1zM230 418h1v1h-1zM230 422h1v1h-1zM230 426h1v1h-1zM230 430h1v1h-1zM230 434h1v1h-1zM230 438h1v1h-1zM230 442h1v1h-1zM230 446h1v1h-1zM230 450h1v1h-1zM230 454h1v1h-1zM230 458h1v1h-1zM230 462h1v1h-1zM230 466h1v1h-1zM230 470h1v1h-1zM230 474h1v1h-1zM230 478h1v1h-1zM230 482h1v1h-1zM230 486h1v1h-1zM230 490h1v1h-1zM230 494h1v1h-1zM230 498h1v1h-1zM230 502h1v1h-1zM230 506h1v1h-1zM230 510h1v1h-1zM230 514h1v1h-1zM230 518h1v1h-1zM230 522h1v1h-1zM230 526h1v1h-1zM230 530h1v1h-1zM230 534h1v1h-1zM230 538h1v1h-1zM230 542h1v1h-1zM230 546h1v1h-1zM230 550h1v1h-1zM230 554h1v1h-1zM230 558h1v1h-1zM230 562h1v1h-1zM230 566h1v1h-1zM230 570h1v1h-1zM230 574h1v1h-1zM230 578h1v1h-1zM230 582h1v1h-1zM230 586h1v1h-1zM230 590h1v1h-1zM230 594h1v1h-1zM230 598h1v1h-1zM230 602h1v1h-1zM230 606h1v1h-1zM230 610h1v1h-1zM230 614h1v1h-1zM230 618h1v1h-1zM230 622h1v1h-1zM230 626h1v1h-1zM230 630h1v1h-1zM230 634h1v1h-1zM230 638h1v1h-1zM230 642h1v1h-1zM230 646h1v1h-1zM346 62h1v1h-1zM346 66h1v1h-1zM346 70h1v1h-1zM346 74h1v1h-1zM346 78h1v1h-1zM346 82h1v1h-1zM346 86h1v1h-1zM346 90h1v1h-1zM346 94h1v1h-1zM346 98h1v1h-1zM346 102h1v1h-1zM346 106h1v1h-1zM346 110h1v1h-1zM346 114h1v1h-1zM346 118h1v1h-1zM346 122h1v1h-1zM346 126h1v1h-1zM346 130h1v1h-1zM346 134h1v1h-1zM346 138h1v1h-1zM346 142h1v1h-1zM346 146h1v1h-1zM346 150h1v1h-1zM346 154h1v1h-1zM346 158h1v1h-1zM346 162h1v1h-1zM346 166h1v1h-1zM346 170h1v1h-1zM346 174h1v1h-1zM346 178h1v1h-1zM346 182h1v1h-1zM346 186h1v1h-1zM346 190h1v1h-1zM346 194h1v1h-1zM346 198h1v1h-1zM346 202h1v1h-1zM346 206h1v1h-1zM346 210h1v1h-1zM346 214h1v1h-1zM346 218h1v1h-1zM346 222h1v1h-1zM346 226h1v1h-1zM346 230h1v1h-1zM346 234h1v1h-1zM346 238h1v1h-1zM346 242h1v1h-1zM346 246h1v1h-1zM346 250h1v1h-1zM346 254h1v1h-1zM346 258h1v1h-1zM346 262h1v1h-1zM346 266h1v1h-1zM346 270h1v1h-1zM346 274h1v1h-1zM346 278h1v1h-1zM346 282h1v1h-1zM346 286h1v1h-1zM346 290h1v1h-1zM346 294h1v1h-1zM346 298h1v1h-1zM346 302h1v1h-1zM346 306h1v1h-1zM346 310h1v1h-1zM346 314h1v1h-1zM346 318h1v1h-1zM346 322h1v1h-1zM346 326h1v1h-1zM346 330h1v1h-1zM346 334h1v1h-1zM346 338h1v1h-1zM346 342h1v1h-1zM346 346h1v1h-1zM346 350h1v1h-1zM346 354h1v1h-1zM346 358h1v1h-1zM346 362h1v1h-1zM346 366h1v1h-1zM346 370h1v1h-1zM346 374h1v1h-1zM346 378h1v1h-1zM346 382h1v1h-1zM346 386h1v1h-1zM346 390h1v1h-1zM346 394h1v1h-1zM346 398h1v1h-1zM346 402h1v1h-1zM346 406h1v1h-1zM346 410h1v1h-1zM346 414h1v1h-1zM346 418h1v1h-1zM346 422h1v1h-1zM346 426h1v1h-1zM346 430h1v1h-1zM346 434h1v1h-1zM346 438h1v1h-1zM346 442h1v1h-1zM346 446h1v1h-1zM346 450h1v1h-1zM346 454h1v1h-1zM346 458h1v1h-1zM346 462h1v1h-1zM346 466h1v1h-1zM346 470h1v1h-1zM346 474h1v1h-1zM346 478h1v1h-1zM346 482h1v1h-1zM346 486h1v1h-1zM346 490h1v1h-1zM346 494h1v1h-1zM346 498h1v1h-1zM346 502h1v1h-1zM346 506h1v1h-1zM346 510h1v1h-1zM346 514h1v1h-1zM346 518h1v1h-1zM346 522h1v1h-1zM346 526h1v1h-1zM346 530h1v1h-1zM346 534h1v1h-1zM346 538h1v1h-1zM346 542h1v1h-1zM346 546h1v1h-1zM346 550h1v1h-1zM346 554h1v1h-1zM346 558h1v1h-1zM346 562h1v1h-1zM346 566h1v1h-1zM346 570h1v1h-1zM346 574h1v1h-1zM346 578h1v1h-1zM346 582h1v1h-1zM346 586h1v1h-1zM346 590h1v1h-1zM346 594h1v1h-1zM346 598h1v1h-1zM346 602h1v1h-1zM346 606h1v1h-1zM346 610h1v1h-1zM346 614h1v1h-1zM346 618h1v1h-1zM346 622h1v1h-1zM346 626h1v1h-1zM346 630h1v1h-1zM346 634h1v1h-1zM346 638h1v1h-1zM346 642h1v1h-1zM346 646h1v1h-1zM402 62h1v1h-1zM402 66h1v1h-1zM402 70h1v1h-1zM402 74h1v1h-1zM402 78h1v1h-1zM402 82h1v1h-1zM402 86h1v1h-1zM402 90h1v1h-1zM402 94h1v1h-1zM402 98h1v1h-1zM402 102h1v1h-1zM402 106h1v1h-1zM402 110h1v1h-1zM402 114h1v1h-1zM402 118h1v1h-1zM402 122h1v1h-1zM402 126h1v1h-1zM402 130h1v1h-1zM402 134h1v1h-1zM402 138h1v1h-1zM402 142h1v1h-1zM402 146h1v1h-1zM402 150h1v1h-1zM402 154h1v1h-1zM402 158h1v1h-1zM402 162h1v1h-1zM402 166h1v1h-1zM402 170h1v1h-1zM402 174h1v1h-1zM402 178h1v1h-1zM402 182h1v1h-1zM402 186h1v1h-1zM402 190h1v1h-1zM402 194h1v1h-1zM402 198h1v1h-1zM402 202h1v1h-1zM402 206h1v1h-1zM402 210h1v1h-1zM402 214h1v1h-1zM402 218h1v1h-1zM402 222h1v1h-1zM402 226h1v1h-1zM402 230h1v1h-1zM402 234h1v1h-1zM402 238h1v1h-1zM402 242h1v1h-1zM402 246h1v1h-1zM402 250h1v1h-1zM402 254h1v1h-1zM402 258h1v1h-1zM402 262h1v1h-1zM402 266h1v1h-1zM402 270h1v1h-1zM402 274h1v1h-1zM402 278h1v1h-1zM402 282h1v1h-1zM402 286h1v1h-1zM402 290h1v1h-1zM402 294h1v1h-1zM402 298h1v1h-1zM402 302h1v1h-1zM402 306h1v1h-1zM402 310h1v1h-1zM402 314h1v1h-1zM402 318h1v1h-1zM402 322h1v1h-1zM402 326h1v1h-1zM402 330h1v1h-1zM402 334h1v1h-1zM402 338h1v1h-1zM402 342h1v1h-1zM402 346h1v1h-1zM402 350h1v1h-1zM402 354h1v1h-1zM402 358h1v1h-1zM402 362h1v1h-1zM402 366h1v1h-1zM402 370h1v1h-1zM402 374h1v1h-1zM402 378h1v1h-1zM402 382h1v1h-1zM402 386h1v1h-1zM402 390h1v1h-1zM402 394h1v1h-1zM402 398h1v1h-1zM402 402h1v1h-1zM402 406h1v1h-1zM402 410h1v1h-1zM402 414h1v1h-1zM402 418h1v1h-1zM402 422h1v1h-1zM402 426h1v1h-1zM402 430h1v1h-1zM402 434h1v1h-1zM402 438h1v1h-1zM402 442h1v1h-1zM402 446h1v1h-1zM402 450h1v1h-1zM402 454h1v1h-1zM402 458h1v1h-1zM402 462h1v1h-1zM402 466h1v1h-1zM402 470h1v1h-1zM402 474h1v1h-1zM402 478h1v1h-1zM402 482h1v1h-1zM402 486h1v1h-1zM402 490h1v1h-1zM402 494h1v1h-1zM402 498h1v1h-1zM402 502h1v1h-1zM402 506h1v1h-1zM402 510h1v1h-1zM402 514h1v1h-1zM402 518h1v1h-1zM402 522h1v1h-1zM402 526h1v1h-1zM402 530h1v1h-1zM402 534h1v1h-1zM402 538h1v1h-1zM402 542h1v1h-1zM402 546h1v1h-1zM402 550h1v1h-1zM402 554h1v1h-1zM402 558h1v1h-1zM402 562h1v1h-1zM402 566h1v1h-1zM402 570h1v1h-1zM402 574h1v1h-1zM402 578h1v1h-1zM402 582h1v1h-1zM402 586h1v1h-1zM402 590h1v1h-1zM402 594h1v1h-1zM402 598h1v1h-1zM402 602h1v1h-1zM402 606h1v1h-1zM402 610h1v1h-1zM402 614h1v1h-1zM402 618h1v1h-1zM402 622h1v1h-1zM402 626h1v1h-1zM402 630h1v1h-1zM402 634h1v1h-1zM402 638h1v1h-1zM402 642h1v1h-1zM402 646h1v1h-1zM518 62h1v1h-1zM518 66h1v1h-1zM518 70h1v1h-1zM518 74h1v1h-1zM518 78h1v1h-1zM518 82h1v1h-1zM518 86h1v1h-1zM518 90h1v1h-1zM518 94h1v1h-1zM518 98h1v1h-1zM518 102h1v1h-1zM518 106h1v1h-1zM518 110h1v1h-1zM518 114h1v1h-1zM518 118h1v1h-1zM518 122h1v1h-1zM518 126h1v1h-1zM518 130h1v1h-1zM518 134h1v1h-1zM518 138h1v1h-1zM518 142h1v1h-1zM518 146h1v1h-1zM518 150h1v1h-1zM518 154h1v1h-1zM518 158h1v1h-1zM518 162h1v1h-1zM518 166h1v1h-1zM518 170h1v1h-1zM518 174h1v1h-1zM518 178h1v1h-1zM518 182h1v1h-1zM518 186h1v1h-1zM518 190h1v1h-1zM518 194h1v1h-1zM518 198h1v1h-1zM518 202h1v1h-1zM518 206h1v1h-1zM518 210h1v1h-1zM518 214h1v1h-1zM518 218h1v1h-1zM518 222h1v1h-1zM518 226h1v1h-1zM518 230h1v1h-1zM518 234h1v1h-1zM518 238h1v1h-1zM518 242h1v1h-1zM518 246h1v1h-1zM518 250h1v1h-1zM518 254h1v1h-1zM518 258h1v1h-1zM518 262h1v1h-1zM518 266h1v1h-1zM518 270h1v1h-1zM518 274h1v1h-1zM518 278h1v1h-1zM518 282h1v1h-1zM518 286h1v1h-1zM518 290h1v1h-1zM518 294h1v1h-1zM518 298h1v1h-1zM518 302h1v1h-1zM518 306h1v1h-1zM518 310h1v1h-1zM518 314h1v1h-1zM518 318h1v1h-1zM518 322h1v1h-1zM518 326h1v1h-1zM518 330h1v1h-1zM518 334h1v1h-1zM518 338h1v1h-1zM518 342h1v1h-1zM518 346h1v1h-1zM518 350h1v1h-1zM518 354h1v1h-1zM518 358h1v1h-1zM518 362h1v1h-1zM518 366h1v1h-1zM518 370h1v1h-1zM518 374h1v1h-1zM518 378h1v1h-1zM518 382h1v1h-1zM518 386h1v1h-1zM518 390h1v1h-1zM518 394h1v1h-1zM518 398h1v1h-1zM518 402h1v1h-1zM518 406h1v1h-1zM518 410h1v1h-1zM518 414h1v1h-1zM518 418h1v1h-1zM518 422h1v1h-1zM518 426h1v1h-1zM518 430h1v1h-1zM518 434h1v1h-1zM518 438h1v1h-1zM518 442h1v1h-1zM518 446h1v1h-1zM518 450h1v1h-1zM518 454h1v1h-1zM518 458h1v1h-1zM518 462h1v1h-1zM518 466h1v1h-1zM518 470h1v1h-1zM518 474h1v1h-1zM518 478h1v1h-1zM518 482h1v1h-1zM518 486h1v1h-1zM518 490h1v1h-1zM518 494h1v1h-1zM518 498h1v1h-1zM518 502h1v1h-1zM518 506h1v1h-1zM518 510h1v1h-1zM518 514h1v1h-1zM518 518h1v1h-1zM518 522h1v1h-1zM518 526h1v1h-1zM518 530h1v1h-1zM518 534h1v1h-1zM518 538h1v1h-1zM518 542h1v1h-1zM518 546h1v1h-1zM518 550h1v1h-1zM518 554h1v1h-1zM518 558h1v1h-1zM518 562h1v1h-1zM518 566h1v1h-1zM518 570h1v1h-1zM518 574h1v1h-1zM518 578h1v1h-1zM518 582h1v1h-1zM518 586h1v1h-1zM518 590h1v1h-1zM518 594h1v1h-1zM518 598h1v1h-1zM518 602h1v1h-1zM518 606h1v1h-1zM518 610h1v1h-1zM518 614h1v1h-1zM518 618h1v1h-1zM518 622h1v1h-1zM518 626h1v1h-1zM518 630h1v1h-1zM518 634h1v1h-1zM518 638h1v1h-1zM518 642h1v1h-1zM518 646h1v1h-1z"/><path fill="#000" fill-opacity="0.200" d="M58 165h2v1h-2zM62 165h2v1h-2zM66 165h2v1h-2zM70 165h2v1h-2zM74 165h2v1h-2zM78 165h2v1h-2zM82 165h2v1h-2zM86 165h2v1h-2zM90 165h2v1h-2zM94 165h2v1h-2zM98 165h2v1h-2zM102 165h2v1h-2zM106 165h2v1h-2zM110 165h2v1h-2zM114 165h2v1h-2zM118 165h2v1h-2zM122 165h2v1h-2zM126 165h2v1h-2zM130 165h2v1h-2zM134 165h2v1h-2zM138 165h2v1h-2zM142 165h2v1h-2zM146 165h2v1h-2zM150 165h2v1h-2zM154 165h2v1h-2zM158 165h2v1h-2zM162 165h2v1h-2zM166 165h2v1h-2zM170 165h2v1h-2zM174 165h2v1h-2zM178 165h2v1h-2zM182 165h2v1h-2zM186 165h2v1h-2zM190 165h2v1h-2zM194 165h2v1h-2zM198 165h2v1h-2zM202 165h2v1h-2zM206 165h2v1h-2zM210 165h2v1h-2zM214 165h2v1h-2zM218 165h2v1h-2zM222 165h2v1h-2zM226 165h2v1h-2zM230 165h2v1h-2zM234 165h2v1h-2zM238 165h2v1h-2zM242 165h2v1h-2zM246 165h2v1h-2zM250 165h2v1h-2zM254 165h2v1h-2zM258 165h2v1h-2zM262 165h2v1h-2zM266 165h2v1h-2zM270 165h2v1h-2zM274 165h2v1h-2zM278 165h2v1h-2zM282 165h2v1h-2zM286 165h2v1h-2zM290 165h2v1h-2zM294 165h2v1h-2zM298 165h2v1h-2zM302 165h2v1h-2zM306 165h2v1h-2zM310 165h2v1h-2zM314 165h2v1h-2zM318 165h2v1h-2zM322 165h2v1h-2zM326 165h2v1h-2zM330 165h2v1h-2zM334 165h2v1h-2zM338 165h2v1h-2zM342 165h2v1h-2zM346 165h2v1h-2zM350 165h2v1h-2zM354 165h2v1h-2zM358 165h2v1h-2zM362 165h2v1h-2zM366 165h2v1h-2zM370 165h2v1h-2zM374 165h2v1h-2zM378 165h2v1h-2zM382 165h2v1h-2zM386 165h2v1h-2zM390 165h2v1h-2zM394 165h2v1h-2zM398 165h2v1h-2zM402 165h2v1h-2zM406 165h2v1h-2zM410 165h2v1h-2zM414 165h2v1h-2zM418 165h2v1h-2zM422 165h2v1h-2zM426 165h2v1h-2zM430 165h2v1h-2zM434 165h2v1h-2zM438 165h2v1h-2zM442 165h2v1h-2zM446 165h2v1h-2zM450 165h2v1h-2zM454 165h2v1h-2zM458 165h2v1h-2zM462 165h2v1h-2zM466 165h2v1h-2zM470 165h2v1h-2zM474 165h2v1h-2zM478 165h2v1h-2zM482 165h2v1h-2zM486 165h2v1h-2zM490 165h2v1h-2zM494 165h2v1h-2zM498 165h2v1h-2zM502 165h2v1h-2zM506 165h2v1h-2zM510 165h2v1h-2zM514 165h2v1h-2zM518 165h2v1h-2zM522 165h2v1h-2zM526 165h2v1h-2zM530 165h2v1h-2zM534 165h2v1h-2zM538 165h2v1h-2zM542 165h2v1h-2zM546 165h2v1h-2zM550 165h2v1h-2zM554 165h2v1h-2zM558 165h2v1h-2zM562 165h2v1h-2zM566 165h2v1h-2zM570 165h2v1h-2zM574 165h2v1h-2zM578 165h2v1h-2zM582 165h2v1h-2zM586 165h2v1h-2zM590 165h2v1h-2zM594 165h2v1h-2zM598 165h2v1h-2zM602 165h2v1h-2zM606 165h2v1h-2zM610 165h2v1h-2zM614 165h2v1h-2zM618 165h2v1h-2zM622 165h2v1h-2zM626 165h2v1h-2zM630 165h2v1h-2zM634 165h2v1h-2zM638 165h2v1h-2zM642 165h2v1h-2zM646 165h2v1h-2zM650 165h2v1h-2zM654 165h2v1h-2zM658 165h2v1h-2zM662 165h2v1h-2zM666 165h2v1h-2zM670 165h2v1h-2zM674 165h2v1h-2zM678 165h2v1h-2zM682 165h2v1h-2zM686 165h2v1h-2zM58 326h2v1h-2zM62 326h2v1h-2zM66 326h2v1h-2zM70 326h2v1h-2zM74 326h2v1h-2zM78 326h2v1h-2zM82 326h2v1h-2zM86 326h2v1h-2zM90 326h2v1h-2zM94 326h2v1h-2zM98 326h2v1h-2zM102 326h2v1h-2zM106 326h2v1h-2zM110 326h2v1h-2zM114 326h2v1h-2zM118 326h2v1h-2zM122 326h2v1h-2zM126 326h2v1h-2zM130 326h2v1h-2zM134 326h2v1h-2zM138 326h2v1h-2zM142 326h2v1h-2zM146 326h2v1h-2zM150 326h2v1h-2zM154 326h2v1h-2zM158 326h2v1h-2zM162 326h2v1h-2zM166 326h2v1h-2zM170 326h2v1h-2zM174 326h2v1h-2zM178 326h2v1h-2zM182 326h2v1h-2zM186 326h2v1h-2zM190 326h2v1h-2zM194 326h2v1h-2zM198 326h2v1h-2zM202 326h2v1h-2zM206 326h2v1h-2zM210 326h2v1h-2zM214 326h2v1h-2zM218 326h2v1h-2zM222 326h2v1h-2zM226 326h2v1h-2zM230 326h2v1h-2zM234 326h2v1h-2zM238 326h2v1h-2zM242 326h2v1h-2zM246 326h2v1h-2zM250 326h2v1h-2zM254 326h2v1h-2zM258 326h2v1h-2zM262 326h2v1h-2zM266 326h2v1h-2zM270 326h2v1h-2zM274 326h2v1h-2zM278 326h2v1h-2zM282 326h2v1h-2zM286 326h2v1h-2zM290 326h2v1h-2zM294 326h2v1h-2zM298 326h2v1h-2zM302 326h2v1h-2zM306 326h2v1h-2zM310 326h2v1h-2zM314 326h2v1h-2zM318 326h2v1h-2zM322 326h2v1h-2zM326 326h2v1h-2zM330 326h2v1h-2zM334 326h2v1h-2zM338 326h2v1h-2zM342 326h2v1h-2zM346 326h2v1h-2zM350 326h2v1h-2zM354 326h2v1h-2zM358 326h2v1h-2zM362 326h2v1h-2zM366 326h2v1h-2zM370 326h2v1h-2zM374 326h2v1h-2zM378 326h2v1h-2zM382 326h2v1h-2zM386 326h2v1h-2zM390 326h2v1h-2zM394 326h2v1h-2zM398 326h2v1h-2zM402 326h2v1h-2zM406 326h2v1h-2zM410 326h2v1h-2zM414 326h2v1h-2zM418 326h2v1h-2zM422 326h2v1h-2zM426 326h2v1h-2zM430 326h2v1h-2zM434 326h2v1h-2zM438 326h2v1h-2zM442 326h2v1h-2zM446 326h2v1h-2zM450 326h2v1h-2zM454 326h2v1h-2zM458 326h2v1h-2zM462 326h2v1h-2zM466 326h2v1h-2zM470 326h2v1h-2zM474 326h2v1h-2zM478 326h2v1h-2zM482 326h2v1h-2zM486 326h2v1h-2zM490 326h2v1h-2zM494 326h2v1h-2zM498 326h2v1h-2zM502 326h2v1h-2zM506 326h2v1h-2zM510 326h2v1h-2zM514 326h2v1h-2zM518 326h2v1h-2zM522 326h2v1h-2zM526 326h2v1h-2zM530 326h2v1h-2zM534 326h2v1h-2zM538 326h2v1h-2zM542 326h2v1h-2zM546 326h2v1h-2zM550 326h2v1h-2zM554 326h2v1h-2zM558 326h2v1h-2zM562 326h2v1h-2zM566 326h2v1h-2zM570 326h2v1h-2zM574 326h2v1h-2zM578 326h2v1h-2zM582 326h2v1h-2zM586 326h2v1h-2zM590 326h2v1h-2zM594 326h2v1h-2zM598 326h2v1h-2zM602 326h2v1h-2zM606 326h2v1h-2zM610 326h2v1h-2zM614 326h2v1h-2zM618 326h2v1h-2zM622 326h2v1h-2zM626 326h2v1h-2zM630 326h2v1h-2zM634 326h2v1h-2zM638 326h2v1h-2zM642 326h2v1h-2zM646 326h2v1h-2zM650 326h2v1h-2zM654 326h2v1h-2zM658 326h2v1h-2zM662 326h2v1h-2zM666 326h2v1h-2zM670 326h2v1h-2zM674 326h2v1h-2zM678 326h2v1h-2zM682 326h2v1h-2zM686 326h2v1h-2zM58 432h2v1h-2zM62 432h2v1h-2zM66 432h2v1h-2zM70 432h2v1h-2zM74 432h2v1h-2zM78 432h2v1h-2zM82 432h2v1h-2zM86 432h2v1h-2zM90 432h2v1h-2zM94 432h2v1h-2zM98 432h2v1h-2zM102 432h2v1h-2zM106 432h2v1h-2zM110 432h2v1h-2zM114 432h2v1h-2zM118 432h2v1h-2zM122 432h2v1h-2zM126 432h2v1h-2zM130 432h2v1h-2zM134 432h2v1h-2zM138 432h2v1h-2zM142 432h2v1h-2zM146 432h2v1h-2zM150 432h2v1h-2zM154 432h2v1h-2zM158 432h2v1h-2zM162 432h2v1h-2zM166 432h2v1h-2zM170 432h2v1h-2zM174 432h2v1h-2zM178 432h2v1h-2zM182 432h2v1h-2zM186 432h2v1h-2zM190 432h2v1h-2zM194 432h2v1h-2zM198 432h2v1h-2zM202 432h2v1h-2zM206 432h2v1h-2zM210 432h2v1h-2zM214 432h2v1h-2zM218 432h2v1h-2zM222 432h2v1h-2zM226 432h2v1h-2zM230 432h2v1h-2zM234 432h2v1h-2zM238 432h2v1h-2zM242 432h2v1h-2zM246 432h2v1h-2zM250 432h2v1h-2zM254 432h2v1h-2zM258 432h2v1h-2zM262 432h2v1h-2zM266 432h2v1h-2zM270 432h2v1h-2zM274 432h2v1h-2zM278 432h2v1h-2zM282 432h2v1h-2zM286 432h2v1h-2zM290 432h2v1h-2zM294 432h2v1h-2zM298 432h2v1h-2zM302 432h2v1h-2zM306 432h2v1h-2zM310 432h2v1h-2zM314 432h2v1h-2zM318 432h2v1h-2zM322 432h2v1h-2zM326 432h2v1h-2zM330 432h2v1h-2zM334 432h2v1h-2zM338 432h2v1h-2zM342 432h2v1h-2zM346 432h2v1h-2zM350 432h2v1h-2zM354 432h2v1h-2zM358 432h2v1h-2zM362 432h2v1h-2zM366 432h2v1h-2zM370 432h2v1h-2zM374 432h2v1h-2zM378 432h2v1h-2zM382 432h2v1h-2zM386 432h2v1h-2zM390 432h2v1h-2zM394 432h2v1h-2zM398 432h2v1h-2zM402 432h2v1h-2zM406 432h2v1h-2zM410 432h2v1h-2zM414 432h2v1h-2zM418 432h2v1h-2zM422 432h2v1h-2zM426 432h2v1h-2zM430 432h2v1h-2zM434 432h2v1h-2zM438 432h2v1h-2zM442 432h2v1h-2zM446 432h2v1h-2zM450 432h2v1h-2zM454 432h2v1h-2zM458 432h2v1h-2zM462 432h2v1h-2zM466 432h2v1h-2zM470 432h2v1h-2zM474 432h2v1h-2zM478 432h2v1h-2zM482 432h2v1h-2zM486 432h2v1h-2zM490 432h2v1h-2zM494 432h2v1h-2zM498 432h2v1h-2zM502 432h2v1h-2zM506 432h2v1h-2zM510 432h2v1h-2zM514 432h2v1h-2zM518 432h2v1h-2zM522 432h2v1h-2zM526 432h2v1h-2zM530 432h2v1h-2zM534 432h2v1h-2zM538 432h2v1h-2zM542 432h2v1h-2zM546 432h2v1h-2zM550 432h2v1h-2zM554 432h2v1h-2zM558 432h2v1h-2zM562 432h2v1h-2zM566 432h2v1h-2zM570 432h2v1h-2zM574 432h2v1h-2zM578 432h2v1h-2zM582 432h2v1h-2zM586 432h2v1h-2zM590 432h2v1h-2zM594 432h2v1h-2zM598 432h2v1h-2zM602 432h2v1h-2zM606 432h2v1h-2zM610 432h2v1h-2zM614 432h2v1h-2zM618 432h2v1h-2zM622 432h2v1h-2zM626 432h2v1h-2zM630 432h2v1h-2zM634 432h2v1h-2zM638 432h2v1h-2zM642 432h2v1h-2zM646 432h2v1h-2zM650 432h2v1h-2zM654 432h2v1h-2zM658 432h2v1h-2zM662 432h2v1h-2zM666 432h2v1h-2zM670 432h2v1h-2zM674 432h2v1h-2zM678 432h2v1h-2zM682 432h2v1h-2zM686 432h2v1h-2z"/><path fill="#000" fill-opacity="0.225" d="M58 593h2v1h-2zM62 593h2v1h-2zM66 593h2v1h-2zM70 593h2v1h-2zM74 593h2v1h-2zM78 593h2v1h-2zM82 593h2v1h-2zM86 593h2v1h-2zM90 593h2v1h-2zM94 593h2v1h-2zM98 593h2v1h-2zM102 593h2v1h-2zM106 593h2v1h-2zM110 593h2v1h-2zM114 593h2v1h-2zM118 593h2v1h-2zM122 593h2v1h-2zM126 593h2v1h-2zM130 593h2v1h-2zM134 593h2v1h-2zM138 593h2v1h-2zM142 593h2v1h-2zM146 593h2v1h-2zM150 593h2v1h-2zM154 593h2v1h-2zM158 593h2v1h-2zM162 593h2v1h-2zM166 593h2v1h-2zM170 593h2v1h-2zM174 593h2v1h-2zM178 593h2v1h-2zM182 593h2v1h-2zM186 593h2v1h-2zM190 593h2v1h-2zM194 593h2v1h-2zM198 593h2v1h-2zM202 593h2v1h-2zM206 593h2v1h-2zM210 593h2v1h-2zM214 593h2v1h-2zM218 593h2v1h-2zM222 593h2v1h-2zM226 593h2v1h-2zM230 593h2v1h-2zM234 593h2v1h-2zM238 593h2v1h-2zM242 593h2v1h-2zM246 593h2v1h-2zM250 593h2v1h-2zM254 593h2v1h-2zM258 593h2v1h-2zM262 593h2v1h-2zM266 593h2v1h-2zM270 593h2v1h-2zM274 593h2v1h-2zM278 593h2v1h-2zM282 593h2v1h-2zM286 593h2v1h-2zM290 593h2v1h-2zM294 593h2v1h-2zM298 593h2v1h-2zM302 593h2v1h-2zM306 593h2v1h-2zM310 593h2v1h-2zM314 593h2v1h-2zM318 593h2v1h-2zM322 593h2v1h-2zM326 593h2v1h-2zM330 593h2v1h-2zM334 593h2v1h-2zM338 593h2v1h-2zM342 593h2v1h-2zM346 593h2v1h-2zM350 593h2v1h-2zM354 593h2v1h-2zM358 593h2v1h-2zM362 593h2v1h-2zM366 593h2v1h-2zM370 593h2v1h-2zM374 593h2v1h-2zM378 593h2v1h-2zM382 593h2v1h-2zM386 593h2v1h-2zM390 593h2v1h-2zM394 593h2v1h-2zM398 593h2v1h-2zM402 593h2v1h-2zM406 593h2v1h-2zM410 593h2v1h-2zM414 593h2v1h-2zM418 593h2v1h-2zM422 593h2v1h-2zM426 593h2v1h-2zM430 593h2v1h-2zM434 593h2v1h-2zM438 593h2v1h-2zM442 593h2v1h-2zM446 593h2v1h-2zM450 593h2v1h-2zM454 593h2v1h-2zM458 593h2v1h-2zM462 593h2v1h-2zM466 593h2v1h-2zM470 593h2v1h-2zM474 593h2v1h-2zM478 593h2v1h-2zM482 593h2v1h-2zM486 593h2v1h-2zM490 593h2v1h-2zM494 593h2v1h-2zM498 593h2v1h-2zM502 593h2v1h-2zM506 593h2v1h-2zM510 593h2v1h-2zM514 593h2v1h-2zM518 593h2v1h-2zM522 593h2v1h-2zM526 593h2v1h-2zM530 593h2v1h-2zM534 593h2v1h-2zM538 593h2v1h-2zM542 593h2v1h-2zM546 593h2v1h-2zM550 593h2v1h-2zM554 593h2v1h-2zM558 593h2v1h-2zM562 593h2v1h-2zM566 593h2v1h-2zM570 593h2v1h-2zM574 593h2v1h-2zM578 593h2v1h-2zM582 593h2v1h-2zM586 593h2v1h-2zM590 593h2v1h-2zM594 593h2v1h-2zM598 593h2v1h-2zM602 593h2v1h-2zM606 593h2v1h-2zM610 593h2v1h-2zM614 593h2v1h-2zM618 593h2v1h-2zM622 593h2v1h-2zM626 593h2v1h-2zM630 593h2v1h-2zM634 593h2v1h-2zM638 593h2v1h-2zM642 593h2v1h-2zM646 593h2v1h-2zM650 593h2v1h-2zM654 593h2v1h-2zM658 593h2v1h-2zM662 593h2v1h-2zM666 593h2v1h-2zM670 593h2v1h-2zM674 593h2v1h-2zM678 593h2v1h-2zM682 593h2v1h-2zM686 593h2v1h-2z"/><path fill="#000" fill-opacity="0.250" d="M58 539h2v1h-2zM62 539h2v1h-2zM66 539h2v1h-2zM70 539h2v1h-2zM74 539h2v1h-2zM78 539h2v1h-2zM82 539h2v1h-2zM86 539h2v1h-2zM90 539h2v1h-2zM94 539h2v1h-2zM98 539h2v1h-2zM102 539h2v1h-2zM106 539h2v1h-2zM110 539h2v1h-2zM114 539h2v1h-2zM118 539h2v1h-2zM122 539h2v1h-2zM126 539h2v1h-2zM130 539h2v1h-2zM134 539h2v1h-2zM138 539h2v1h-2zM142 539h2v1h-2zM146 539h2v1h-2zM150 539h2v1h-2zM154 539h2v1h-2zM158 539h2v1h-2zM162 539h2v1h-2zM166 539h2v1h-2zM170 539h2v1h-2zM174 539h2v1h-2zM178 539h2v1h-2zM182 539h2v1h-2zM186 539h2v1h-2zM190 539h2v1h-2zM194 539h2v1h-2zM198 539h2v1h-2zM202 539h2v1h-2zM206 539h2v1h-2zM210 539h2v1h-2zM214 539h2v1h-2zM218 539h2v1h-2zM222 539h2v1h-2zM226 539h2v1h-2zM230 539h2v1h-2zM234 539h2v1h-2zM238 539h2v1h-2zM242 539h2v1h-2zM246 539h2v1h-2zM250 539h2v1h-2zM254 539h2v1h-2zM258 539h2v1h-2zM262 539h2v1h-2zM266 539h2v1h-2zM270 539h2v1h-2zM274 539h2v1h-2zM278 539h2v1h-2zM282 539h2v1h-2zM286 539h2v1h-2zM290 539h2v1h-2zM294 539h2v1h-2zM298 539h2v1h-2zM302 539h2v1h-2zM306 539h2v1h-2zM310 539h2v1h-2zM314 539h2v1h-2zM318 539h2v1h-2zM322 539h2v1h-2zM326 539h2v1h-2zM330 539h2v1h-2zM334 539h2v1h-2zM338 539h2v1h-2zM342 539h2v1h-2zM346 539h2v1h-2zM350 539h2v1h-2zM354 539h2v1h-2zM358 539h2v1h-2zM362 539h2v1h-2zM366 539h2v1h-2zM370 539h2v1h-2zM374 539h2v1h-2zM378 539h2v1h-2zM382 539h2v1h-2zM386 539h2v1h-2zM390 539h2v1h-2zM394 539h2v1h-2zM398 539h2v1h-2zM402 539h2v1h-2zM406 539h2v1h-2zM410 539h2v1h-2zM414 539h2v1h-2zM418 539h2v1h-2zM422 539h2v1h-2zM426 539h2v1h-2zM430 539h2v1h-2zM434 539h2v1h-2zM438 539h2v1h-2zM442 539h2v1h-2zM446 539h2v1h-2zM450 539h2v1h-2zM454 539h2v1h-2zM458 539h2v1h-2zM462 539h2v1h-2zM466 539h2v1h-2zM470 539h2v1h-2zM474 539h2v1h-2zM478 539h2v1h-2zM482 539h2v1h-2zM486 539h2v1h-2zM490 539h2v1h-2zM494 539h2v1h-2zM498 539h2v1h-2zM502 539h2v1h-2zM506 539h2v1h-2zM510 539h2v1h-2zM514 539h2v1h-2zM518 539h2v1h-2zM522 539h2v1h-2zM526 539h2v1h-2zM530 539h2v1h-2zM534 539h2v1h-2zM538 539h2v1h-2zM542 539h2v1h-2zM546 539h2v1h-2zM550 539h2v1h-2zM554 539h2v1h-2zM558 539h2v1h-2zM562 539h2v1h-2zM566 539h2v1h-2zM570 539h2v1h-2zM574 539h2v1h-2zM578 539h2v1h-2zM582 539h2v1h-2zM586 539h2v1h-2zM590 539h2v1h-2zM594 539h2v1h-2zM598 539h2v1h-2zM602 539h2v1h-2zM606 539h2v1h-2zM610 539h2v1h-2zM614 539h2v1h-2zM618 539h2v1h-2zM622 539h2v1h-2zM626 539h2v1h-2zM630 539h2v1h-2zM634 539h2v1h-2zM638 539h2v1h-2zM642 539h2v1h-2zM646 539h2v1h-2zM650 539h2v1h-2zM654 539h2v1h-2zM658 539h2v1h-2zM662 539h2v1h-2zM666 539h2v1h-2zM670 539h2v1h-2zM674 539h2v1h-2zM678 539h2v1h-2zM682 539h2v1h-2zM686 539h2v1h-2z"/><path fill="#000" fill-opacity="0.275" d="M58 219h2v1h-2zM62 219h2v1h-2zM66 219h2v1h-2zM70 219h2v1h-2zM74 219h2v1h-2zM78 219h2v1h-2zM82 219h2v1h-2zM86 219h2v1h-2zM90 219h2v1h-2zM94 219h2v1h-2zM98 219h2v1h-2zM102 219h2v1h-2zM106 219h2v1h-2zM110 219h2v1h-2zM114 219h2v1h-2zM118 219h2v1h-2zM122 219h2v1h-2zM126 219h2v1h-2zM130 219h2v1h-2zM134 219h2v1h-2zM138 219h2v1h-2zM142 219h2v1h-2zM146 219h2v1h-2zM150 219h2v1h-2zM154 219h2v1h-2zM158 219h2v1h-2zM162 219h2v1h-2zM166 219h2v1h-2zM170 219h2v1h-2zM174 219h2v1h-2zM178 219h2v1h-2zM182 219h2v1h-2zM186 219h2v1h-2zM190 219h2v1h-2zM194 219h2v1h-2zM198 219h2v1h-2zM202 219h2v1h-2zM206 219h2v1h-2zM210 219h2v1h-2zM214 219h2v1h-2zM218 219h2v1h-2zM222 219h2v1h-2zM226 219h2v1h-2zM230 219h2v1h-2zM234 219h2v1h-2zM238 219h2v1h-2zM242 219h2v1h-2zM246 219h2v1h-2zM250 219h2v1h-2zM254 219h2v1h-2zM258 219h2v1h-2zM262 219h2v1h-2zM266 219h2v1h-2zM270 219h2v1h-2zM274 219h2v1h-2zM278 219h2v1h-2zM282 219h2v1h-2zM286 219h2v1h-2zM290 219h2v1h-2zM294 219h2v1h-2zM298 219h2v1h-2zM302 219h2v1h-2zM306 219h2v1h-2zM310 219h2v1h-2zM314 219h2v1h-2zM318 219h2v1h-2zM322 219h2v1h-2zM326 219h2v1h-2zM330 219h2v1h-2zM334 219h2v1h-2zM338 219h2v1h-2zM342 219h2v1h-2zM346 219h2v1h-2zM350 219h2v1h-2zM354 219h2v1h-2zM358 219h2v1h-2zM362 219h2v1h-2zM366 219h2v1h-2zM370 219h2v1h-2zM374 219h2v1h-2zM378 219h2v1h-2zM382 219h2v1h-2zM386 219h2v1h-2zM390 219h2v1h-2zM394 219h2v1h-2zM398 219h2v1h-2zM402 219h2v1h-2zM406 219h2v1h-2zM410 219h2v1h-2zM414 219h2v1h-2zM418 219h2v1h-2zM422 219h2v1h-2zM426 219h2v1h-2zM430 219h2v1h-2zM434 219h2v1h-2zM438 219h2v1h-2zM442 219h2v1h-2zM446 219h2v1h-2zM450 219h2v1h-2zM454 219h2v1h-2zM458 219h2v1h-2zM462 219h2v1h-2zM466 219h2v1h-2zM470 219h2v1h-2zM474 219h2v1h-2zM478 219h2v1h-2zM482 219h2v1h-2zM486 219h2v1h-2zM490 219h2v1h-2zM494 219h2v1h-2zM498 219h2v1h-2zM502 219h2v1h-2zM506 219h2v1h-2zM510 219h2v1h-2zM514 219h2v1h-2zM518 219h2v1h-2zM522 219h2v1h-2zM526 219h2v1h-2zM530 219h2v1h-2zM534 219h2v1h-2zM538 219h2v1h-2zM542 219h2v1h-2zM546 219h2v1h-2zM550 219h2v1h-2zM554 219h2v1h-2zM558 219h2v1h-2zM562 219h2v1h-2zM566 219h2v1h-2zM570 219h2v1h-2zM574 219h2v1h-2zM578 219h2v1h-2zM582 219h2v1h-2zM586 219h2v1h-2zM590 219h2v1h-2zM594 219h2v1h-2zM598 219h2v1h-2zM602 219h2v1h-2zM606 219h2v1h-2zM610 219h2v1h-2zM614 219h2v1h-2zM618 219h2v1h-2zM622 219h2v1h-2zM626 219h2v1h-2zM630 219h2v1h-2zM634 219h2v1h-2zM638 219h2v1h-2zM642 219h2v1h-2zM646 219h2v1h-2zM650 219h2v1h-2zM654 219h2v1h-2zM658 219h2v1h-2zM662 219h2v1h-2zM666 219h2v1h-2zM670 219h2v1h-2zM674 219h2v1h-2zM678 219h2v1h-2zM682 219h2v1h-2zM686 219h2v1h-2zM58 272h2v1h-2zM62 272h2v1h-2zM66 272h2v1h-2zM70 272h2v1h-2zM74 272h2v1h-2zM78 272h2v1h-2zM82 272h2v1h-2zM86 272h2v1h-2zM90 272h2v1h-2zM94 272h2v1h-2zM98 272h2v1h-2zM102 272h2v1h-2zM106 272h2v1h-2zM110 272h2v1h-2zM114 272h2v1h-2zM118 272h2v1h-2zM122 272h2v1h-2zM126 272h2v1h-2zM130 272h2v1h-2zM134 272h2v1h-2zM138 272h2v1h-2zM142 272h2v1h-2zM146 272h2v1h-2zM150 272h2v1h-2zM154 272h2v1h-2zM158 272h2v1h-2zM162 272h2v1h-2zM166 272h2v1h-2zM170 272h2v1h-2zM174 272h2v1h-2zM178 272h2v1h-2zM182 272h2v1h-2zM186 272h2v1h-2zM190 272h2v1h-2zM194 272h2v1h-2zM198 272h2v1h-2zM202 272h2v1h-2zM206 272h2v1h-2zM210 272h2v1h-2zM214 272h2v1h-2zM218 272h2v1h-2zM222 272h2v1h-2zM226 272h2v1h-2zM230 272h2v1h-2zM234 272h2v1h-2zM238 272h2v1h-2zM242 272h2v1h-2zM246 272h2v1h-2zM250 272h2v1h-2zM254 272h2v1h-2zM258 272h2v1h-2zM262 272h2v1h-2zM266 272h2v1h-2zM270 272h2v1h-2zM274 272h2v1h-2zM278 272h2v1h-2zM282 272h2v1h-2zM286 272h2v1h-2zM290 272h2v1h-2zM294 272h2v1h-2zM298 272h2v1h-2zM302 272h2v1h-2zM306 272h2v1h-2zM310 272h2v1h-2zM314 272h2v1h-2zM318 272h2v1h-2zM322 272h2v1h-2zM326 272h2v1h-2zM330 272h2v1h-2zM334 272h2v1h-2zM338 272h2v1h-2zM342 272h2v1h-2zM346 272h2v1h-2zM350 272h2v1h-2zM354 272h2v1h-2zM358 272h2v1h-2zM362 272h2v1h-2zM366 272h2v1h-2zM370 272h2v1h-2zM374 272h2v1h-2zM378 272h2v1h-2zM382 272h2v1h-2zM386 272h2v1h-2zM390 272h2v1h-2zM394 272h2v1h-2zM398 272h2v1h-2zM402 272h2v1h-2zM406 272h2v1h-2zM410 272h2v1h-2zM414 272h2v1h-2zM418 272h2v1h-2zM422 272h2v1h-2zM426 272h2v1h-2zM430 272h2v1h-2zM434 272h2v1h-2zM438 272h2v1h-2zM442 272h2v1h-2zM446 272h2v1h-2zM450 272h2v1h-2zM454 272h2v1h-2zM458 272h2v1h-2zM462 272h2v1h-2zM466 272h2v1h-2zM470 272h2v1h-2zM474 272h2v1h-2zM478 272h2v1h-2zM482 272h2v1h-2zM486 272h2v1h-2zM490 272h2v1h-2zM494 272h2v1h-2zM498 272h2v1h-2zM502 272h2v1h-2zM506 272h2v1h-2zM510 272h2v1h-2zM514 272h2v1h-2zM518 272h2v1h-2zM522 272h2v1h-2zM526 272h2v1h-2zM530 272h2v1h-2zM534 272h2v1h-2zM538 272h2v1h-2zM542 272h2v1h-2zM546 272h2v1h-2zM550 272h2v1h-2zM554 272h2v1h-2zM558 272h2v1h-2zM562 272h2v1h-2zM566 272h2v1h-2zM570 272h2v1h-2zM574 272h2v1h-2zM578 272h2v1h-2zM582 272h2v1h-2zM586 272h2v1h-2zM590 272h2v1h-2zM594 272h2v1h-2zM598 272h2v1h-2zM602 272h2v1h-2zM606 272h2v1h-2zM610 272h2v1h-2zM614 272h2v1h-2zM618 272h2v1h-2zM622 272h2v1h-2zM626 272h2v1h-2zM630 272h2v1h-2zM634 272h2v1h-2zM638 272h2v1h-2zM642 272h2v1h-2zM646 272h2v1h-2zM650 272h2v1h-2zM654 272h2v1h-2zM658 272h2v1h-2zM662 272h2v1h-2zM666 272h2v1h-2zM670 272h2v1h-2zM674 272h2v1h-2zM678 272h2v1h-2zM682 272h2v1h-2zM686 272h2v1h-2z"/><path fill="#000" fill-opacity="0.300" d="M58 112h2v1h-2zM62 112h2v1h-2zM66 112h2v1h-2zM70 112h2v1h-2zM74 112h2v1h-2zM78 112h2v1h-2zM82 112h2v1h-2zM86 112h2v1h-2zM90 112h2v1h-2zM94 112h2v1h-2zM98 112h2v1h-2zM102 112h2v1h-2zM106 112h2v1h-2zM110 112h2v1h-2zM114 112h2v1h-2zM118 112h2v1h-2zM122 112h2v1h-2zM126 112h2v1h-2zM130 112h2v1h-2zM134 112h2v1h-2zM138 112h2v1h-2zM142 112h2v1h-2zM146 112h2v1h-2zM150 112h2v1h-2zM154 112h2v1h-2zM158 112h2v1h-2zM162 112h2v1h-2zM166 112h2v1h-2zM170 112h2v1h-2zM174 112h2v1h-2zM178 112h2v1h-2zM182 112h2v1h-2zM186 112h2v1h-2zM190 112h2v1h-2zM194 112h2v1h-2zM198 112h2v1h-2zM202 112h2v1h-2zM206 112h2v1h-2zM210 112h2v1h-2zM214 112h2v1h-2zM218 112h2v1h-2zM222 112h2v1h-2zM226 112h2v1h-2zM230 112h2v1h-2zM234 112h2v1h-2zM238 112h2v1h-2zM242 112h2v1h-2zM246 112h2v1h-2zM250 112h2v1h-2zM254 112h2v1h-2zM258 112h2v1h-2zM262 112h2v1h-2zM266 112h2v1h-2zM270 112h2v1h-2zM274 112h2v1h-2zM278 112h2v1h-2zM282 112h2v1h-2zM286 112h2v1h-2zM290 112h2v1h-2zM294 112h2v1h-2zM298 112h2v1h-2zM302 112h2v1h-2zM306 112h2v1h-2zM310 112h2v1h-2zM314 112h2v1h-2zM318 112h2v1h-2zM322 112h2v1h-2zM326 112h2v1h-2zM330 112h2v1h-2zM334 112h2v1h-2zM338 112h2v1h-2zM342 112h2v1h-2zM346 112h2v1h-2zM350 112h2v1h-2zM354 112h2v1h-2zM358 112h2v1h-2zM362 112h2v1h-2zM366 112h2v1h-2zM370 112h2v1h-2zM374 112h2v1h-2zM378 112h2v1h-2zM382 112h2v1h-2zM386 112h2v1h-2zM390 112h2v1h-2zM394 112h2v1h-2zM398 112h2v1h-2zM402 112h2v1h-2zM406 112h2v1h-2zM410 112h2v1h-2zM414 112h2v1h-2zM418 112h2v1h-2zM422 112h2v1h-2zM426 112h2v1h-2zM430 112h2v1h-2zM434 112h2v1h-2zM438 112h2v1h-2zM442 112h2v1h-2zM446 112h2v1h-2zM450 112h2v1h-2zM454 112h2v1h-2zM458 112h2v1h-2zM462 112h2v1h-2zM466 112h2v1h-2zM470 112h2v1h-2zM474 112h2v1h-2zM478 112h2v1h-2zM482 112h2v1h-2zM486 112h2v1h-2zM490 112h2v1h-2zM494 112h2v1h-2zM498 112h2v1h-2zM502 112h2v1h-2zM506 112h2v1h-2zM510 112h2v1h-2zM514 112h2v1h-2zM518 112h2v1h-2zM522 112h2v1h-2zM526 112h2v1h-2zM530 112h2v1h-2zM534 112h2v1h-2zM538 112h2v1h-2zM542 112h2v1h-2zM546 112h2v1h-2zM550 112h2v1h-2zM554 112h2v1h-2zM558 112h2v1h-2zM562 112h2v1h-2zM566 112h2v1h-2zM570 112h2v1h-2zM574 112h2v1h-2zM578 112h2v1h-2zM582 112h2v1h-2zM586 112h2v1h-2zM590 112h2v1h-2zM594 112h2v1h-2zM598 112h2v1h-2zM602 112h2v1h-2zM606 112h2v1h-2zM610 112h2v1h-2zM614 112h2v1h-2zM618 112h2v1h-2zM622 112h2v1h-2zM626 112h2v1h-2zM630 112h2v1h-2zM634 112h2v1h-2zM638 112h2v1h-2zM642 112h2v1h-2zM646 112h2v1h-2zM650 112h2v1h-2zM654 112h2v1h-2zM658 112h2v1h-2zM662 112h2v1h-2zM666 112h2v1h-2zM670 112h2v1h-2zM674 112h2v1h-2zM678 112h2v1h-2zM682 112h2v1h-2zM686 112h2v1h-2zM58 379h2v1h-2zM62 379h2v1h-2zM66 379h2v1h-2zM70 379h2v1h-2zM74 379h2v1h-2zM78 379h2v1h-2zM82 379h2v1h-2zM86 379h2v1h-2zM90 379h2v1h-2zM94 379h2v1h-2zM98 379h2v1h-2zM102 379h2v1h-2zM106 379h2v1h-2zM110 379h2v1h-2zM114 379h2v1h-2zM118 379h2v1h-2zM122 379h2v1h-2zM126 379h2v1h-2zM130 379h2v1h-2zM134 379h2v1h-2zM138 379h2v1h-2zM142 379h2v1h-2zM146 379h2v1h-2zM150 379h2v1h-2zM154 379h2v1h-2zM158 379h2v1h-2zM162 379h2v1h-2zM166 379h2v1h-2zM170 379h2v1h-2zM174 379h2v1h-2zM178 379h2v1h-2zM182 379h2v1h-2zM186 379h2v1h-2zM190 379h2v1h-2zM194 379h2v1h-2zM198 379h2v1h-2zM202 379h2v1h-2zM206 379h2v1h-2zM210 379h2v1h-2zM214 379h2v1h-2zM218 379h2v1h-2zM222 379h2v1h-2zM226 379h2v1h-2zM230 379h2v1h-2zM234 379h2v1h-2zM238 379h2v1h-2zM242 379h2v1h-2zM246 379h2v1h-2zM250 379h2v1h-2zM254 379h2v1h-2zM258 379h2v1h-2zM262 379h2v1h-2zM266 379h2v1h-2zM270 379h2v1h-2zM274 379h2v1h-2zM278 379h2v1h-2zM282 379h2v1h-2zM286 379h2v1h-2zM290 379h2v1h-2zM294 379h2v1h-2zM298 379h2v1h-2zM302 379h2v1h-2zM306 379h2v1h-2zM310 379h2v1h-2zM314 379h2v1h-2zM318 379h2v1h-2zM322 379h2v1h-2zM326 379h2v1h-2zM330 379h2v1h-2zM334 379h2v1h-2zM338 379h2v1h-2zM342 379h2v1h-2zM346 379h2v1h-2zM350 379h2v1h-2zM354 379h2v1h-2zM358 379h2v1h-2zM362 379h2v1h-2zM366 379h2v1h-2zM370 379h2v1h-2zM374 379h2v1h-2zM378 379h2v1h-2zM382 379h2v1h-2zM386 379h2v1h-2zM390 379h2v1h-2zM394 379h2v1h-2zM398 379h2v1h-2zM402 379h2v1h-2zM406 379h2v1h-2zM410 379h2v1h-2zM414 379h2v1h-2zM418 379h2v1h-2zM422 379h2v1h-2zM426 379h2v1h-2zM430 379h2v1h-2zM434 379h2v1h-2zM438 379h2v1h-2zM442 379h2v1h-2zM446 379h2v1h-2zM450 379h2v1h-2zM454 379h2v1h-2zM458 379h2v1h-2zM462 379h2v1h-2zM466 379h2v1h-2zM470 379h2v1h-2zM474 379h2v1h-2zM478 379h2v1h-2zM482 379h2v1h-2zM486 379h2v1h-2zM490 379h2v1h-2zM494 379h2v1h-2zM498 379h2v1h-2zM502 379h2v1h-2zM506 379h2v1h-2zM510 379h2v1h-2zM514 379h2v1h-2zM518 379h2v1h-2zM522 379h2v1h-2zM526 379h2v1h-2zM530 379h2v1h-2zM534 379h2v1h-2zM538 379h2v1h-2zM542 379h2v1h-2zM546 379h2v1h-2zM550 379h2v1h-2zM554 379h2v1h-2zM558 379h2v1h-2zM562 379h2v1h-2zM566 379h2v1h-2zM570 379h2v1h-2zM574 379h2v1h-2zM578 379h2v1h-2zM582 379h2v1h-2zM586 379h2v1h-2zM590 379h2v1h-2zM594 379h2v1h-2zM598 379h2v1h-2zM602 379h2v1h-2zM606 379h2v1h-2zM610 379h2v1h-2zM614 379h2v1h-2zM618 379h2v1h-2zM622 379h2v1h-2zM626 379h2v1h-2zM630 379h2v1h-2zM634 379h2v1h-2zM638 379h2v1h-2zM642 379h2v1h-2zM646 379h2v1h-2zM650 379h2v1h-2zM654 379h2v1h-2zM658 379h2v1h-2zM662 379h2v1h-2zM666 379h2v1h-2zM670 379h2v1h-2zM674 379h2v1h-2zM678 379h2v1h-2zM682 379h2v1h-2zM686 379h2v1h-2zM58 486h2v1h-2zM62 486h2v1h-2zM66 486h2v1h-2zM70 486h2v1h-2zM74 486h2v1h-2zM78 486h2v1h-2zM82 486h2v1h-2zM86 486h2v1h-2zM90 486h2v1h-2zM94 486h2v1h-2zM98 486h2v1h-2zM102 486h2v1h-2zM106 486h2v1h-2zM110 486h2v1h-2zM114 486h2v1h-2zM118 486h2v1h-2zM122 486h2v1h-2zM126 486h2v1h-2zM130 486h2v1h-2zM134 486h2v1h-2zM138 486h2v1h-2zM142 486h2v1h-2zM146 486h2v1h-2zM150 486h2v1h-2zM154 486h2v1h-2zM158 486h2v1h-2zM162 486h2v1h-2zM166 486h2v1h-2zM170 486h2v1h-2zM174 486h2v1h-2zM178 486h2v1h-2zM182 486h2v1h-2zM186 486h2v1h-2zM190 486h2v1h-2zM194 486h2v1h-2zM198 486h2v1h-2zM202 486h2v1h-2zM206 486h2v1h-2zM210 486h2v1h-2zM214 486h2v1h-2zM218 486h2v1h-2zM222 486h2v1h-2zM226 486h2v1h-2zM230 486h2v1h-2zM234 486h2v1h-2zM238 486h2v1h-2zM242 486h2v1h-2zM246 486h2v1h-2zM250 486h2v1h-2zM254 486h2v1h-2zM258 486h2v1h-2zM262 486h2v1h-2zM266 486h2v1h-2zM270 486h2v1h-2zM274 486h2v1h-2zM278 486h2v1h-2zM282 486h2v1h-2zM286 486h2v1h-2zM290 486h2v1h-2zM294 486h2v1h-2zM298 486h2v1h-2zM302 486h2v1h-2zM306 486h2v1h-2zM310 486h2v1h-2zM314 486h2v1h-2zM318 486h2v1h-2zM322 486h2v1h-2zM326 486h2v1h-2zM330 486h2v1h-2zM334 486h2v1h-2zM338 486h2v1h-2zM342 486h2v1h-2zM346 486h2v1h-2zM350 486h2v1h-2zM354 486h2v1h-2zM358 486h2v1h-2zM362 486h2v1h-2zM366 486h2v1h-2zM370 486h2v1h-2zM374 486h2v1h-2zM378 486h2v1h-2zM382 486h2v1h-2zM386 486h2v1h-2zM390 486h2v1h-2zM394 486h2v1h-2zM398 486h2v1h-2zM402 486h2v1h-2zM406 486h2v1h-2zM410 486h2v1h-2zM414 486h2v1h-2zM418 486h2v1h-2zM422 486h2v1h-2zM426 486h2v1h-2zM430 486h2v1h-2zM434 486h2v1h-2zM438 486h2v1h-2zM442 486h2v1h-2zM446 486h2v1h-2zM450 486h2v1h-2zM454 486h2v1h-2zM458 486h2v1h-2zM462 486h2v1h-2zM466 486h2v1h-2zM470 486h2v1h-2zM474 486h2v1h-2zM478 486h2v1h-2zM482 486h2v1h-2zM486 486h2v1h-2zM490 486h2v1h-2zM494 486h2v1h-2zM498 486h2v1h-2zM502 486h2v1h-2zM506 486h2v1h-2zM510 486h2v1h-2zM514 486h2v1h-2zM518 486h2v1h-2zM522 486h2v1h-2zM526 486h2v1h-2zM530 486h2v1h-2zM534 486h2v1h-2zM538 486h2v1h-2zM542 486h2v1h-2zM546 486h2v1h-2zM550 486h2v1h-2zM554 486h2v1h-2zM558 486h2v1h-2zM562 486h2v1h-2zM566 486h2v1h-2zM570 486h2v1h-2zM574 486h2v1h-2zM578 486h2v1h-2zM582 486h2v1h-2zM586 486h2v1h-2zM590 486h2v1h-2zM594 486h2v1h-2zM598 486h2v1h-2zM602 486h2v1h-2zM606 486h2v1h-2zM610 486h2v1h-2zM614 486h2v1h-2zM618 486h2v1h-2zM622 486h2v1h-2zM626 486h2v1h-2zM630 486h2v1h-2zM634 486h2v1h-2zM638 486h2v1h-2zM642 486h2v1h-2zM646 486h2v1h-2zM650 486h2v1h-2zM654 486h2v1h-2zM658 486h2v1h-2zM662 486h2v1h-2zM666 486h2v1h-2zM670 486h2v1h-2zM674 486h2v1h-2zM678 486h2v1h-2zM682 486h2v1h-2zM686 486h2v1h-2z"/><path fill="#000" fill-opacity="0.350" d="M231 62h1v1h-1zM231 66h1v1h-1zM231 70h1v1h-1zM231 74h1v1h-1zM231 78h1v1h-1zM231 82h1v1h-1zM231 86h1v1h-1zM231 90h1v1h-1zM231 94h1v1h-1zM231 98h1v1h-1zM231 102h1v1h-1zM231 106h1v1h-1zM231 110h1v1h-1zM231 114h1v1h-1zM231 118h1v1h-1zM231 122h1v1h-1zM231 126h1v1h-1zM231 130h1v1h-1zM231 134h1v1h-1zM231 138h1v1h-1zM231 142h1v1h-1zM231 146h1v1h-1zM231 150h1v1h-1zM231 154h1v1h-1zM231 158h1v1h-1zM231 162h1v1h-1zM231 166h1v1h-1zM231 170h1v1h-1zM231 174h1v1h-1zM231 178h1v1h-1zM231 182h1v1h-1zM231 186h1v1h-1zM231 190h1v1h-1zM231 194h1v1h-1zM231 198h1v1h-1zM231 202h1v1h-1zM231 206h1v1h-1zM231 210h1v1h-1zM231 214h1v1h-1zM231 218h1v1h-1zM231 222h1v1h-1zM231 226h1v1h-1zM231 230h1v1h-1zM231 234h1v1h-1zM231 238h1v1h-1zM231 242h1v1h-1zM231 246h1v1h-1zM231 250h1v1h-1zM231 254h1v1h-1zM231 258h1v1h-1zM231 262h1v1h-1zM231 266h1v1h-1zM231 270h1v1h-1zM231 274h1v1h-1zM231 278h1v1h-1zM231 282h1v1h-1zM231 286h1v1h-1zM231 290h1v1h-1zM231 294h1v1h-1zM231 298h1v1h-1zM231 302h1v1h-1zM231 306h1v1h-1zM231 310h1v1h-1zM231 314h1v1h-1zM231 318h1v1h-1zM231 322h1v1h-1zM231 326h1v1h-1zM231 330h1v1h-1zM231 334h1v1h-1zM231 338h1v1h-1zM231 342h1v1h-1zM231 346h1v1h-1zM231 350h1v1h-1zM231 354h1v1h-1zM231 358h1v1h-1zM231 362h1v1h-1zM231 366h1v1h-1zM231 370h1v1h-1zM231 374h1v1h-1zM231 378h1v1h-1zM231 382h1v1h-1zM231 386h1v1h-1zM231 390h1v1h-1zM231 394h1v1h-1zM231 398h1v1h-1zM231 402h1v1h-1zM231 406h1v1h-1zM231 410h1v1h-1zM231 414h1v1h-1zM231 418h1v1h-1zM231 422h1v1h-1zM231 426h1v1h-1zM231 430h1v1h-1zM231 434h1v1h-1zM231 438h1v1h-1zM231 442h1v1h-1zM231 446h1v1h-1zM231 450h1v1h-1zM231 454h1v1h-1zM231 458h1v1h-1zM231 462h1v1h-1zM231 466h1v1h-1zM231 470h1v1h-1zM231 474h1v1h-1zM231 478h1v1h-1zM231 482h1v1h-1zM231 486h1v1h-1zM231 490h1v1h-1zM231 494h1v1h-1zM231 498h1v1h-1zM231 502h1v1h-1zM231 506h1v1h-1zM231 510h1v1h-1zM231 514h1v1h-1zM231 518h1v1h-1zM231 522h1v1h-1zM231 526h1v1h-1zM231 530h1v1h-1zM231 534h1v1h-1zM231 538h1v1h-1zM231 542h1v1h-1zM231 546h1v1h-1zM231 550h1v1h-1zM231 554h1v1h-1zM231 558h1v1h-1zM231 562h1v1h-1zM231 566h1v1h-1zM231 570h1v1h-1zM231 574h1v1h-1zM231 578h1v1h-1zM231 582h1v1h-1zM231 586h1v1h-1zM231 590h1v1h-1zM231 594h1v1h-1zM231 598h1v1h-1zM231 602h1v1h-1zM231 606h1v1h-1zM231 610h1v1h-1zM231 614h1v1h-1zM231 618h1v1h-1zM231 622h1v1h-1zM231 626h1v1h-1zM231 630h1v1h-1zM231 634h1v1h-1zM231 638h1v1h-1zM231 642h1v1h-1zM231 646h1v1h-1zM517 62h1v1h-1zM517 66h1v1h-1zM517 70h1v1h-1zM517 74h1v1h-1zM517 78h1v1h-1zM517 82h1v1h-1zM517 86h1v1h-1zM517 90h1v1h-1zM517 94h1v1h-1zM517 98h1v1h-1zM517 102h1v1h-1zM517 106h1v1h-1zM517 110h1v1h-1zM517 114h1v1h-1zM517 118h1v1h-1zM517 122h1v1h-1zM517 126h1v1h-1zM517 130h1v1h-1zM517 134h1v1h-1zM517 138h1v1h-1zM517 142h1v1h-1zM517 146h1v1h-1zM517 150h1v1h-1zM517 154h1v1h-1zM517 158h1v1h-1zM517 162h1v1h-1zM517 166h1v1h-1zM517 170h1v1h-1zM517 174h1v1h-1zM517 178h1v1h-1zM517 182h1v1h-1zM517 186h1v1h-1zM517 190h1v1h-1zM517 194h1v1h-1zM517 198h1v1h-1zM517 202h1v1h-1zM517 206h1v1h-1zM517 210h1v1h-1zM517 214h1v1h-1zM517 218h1v1h-1zM517 222h1v1h-1zM517 226h1v1h-1zM517 230h1v1h-1zM517 234h1v1h-1zM517 238h1v1h-1zM517 242h1v1h-1zM517 246h1v1h-1zM517 250h1v1h-1zM517 254h1v1h-1zM517 258h1v1h-1zM517 262h1v1h-1zM517 266h1v1h-1zM517 270h1v1h-1zM517 274h1v1h-1zM517 278h1v1h-1zM517 282h1v1h-1zM517 286h1v1h-1zM517 290h1v1h-1zM517 294h1v1h-1zM517 298h1v1h-1zM517 302h1v1h-1zM517 306h1v1h-1zM517 310h1v1h-1zM517 314h1v1h-1zM517 318h1v1h-1zM517 322h1v1h-1zM517 326h1v1h-1zM517 330h1v1h-1zM517 334h1v1h-1zM517 338h1v1h-1zM517 342h1v1h-1zM517 346h1v1h-1zM517 350h1v1h-1zM517 354h1v1h-1zM517 358h1v1h-1zM517 362h1v1h-1zM517 366h1v1h-1zM517 370h1v1h-1zM517 374h1v1h-1zM517 378h1v1h-1zM517 382h1v1h-1zM517 386h1v1h-1zM517 390h1v1h-1zM517 394h1v1h-1zM517 398h1v1h-1zM517 402h1v1h-1zM517 406h1v1h-1zM517 410h1v1h-1zM517 414h1v1h-1zM517 418h1v1h-1zM517 422h1v1h-1zM517 426h1v1h-1zM517 430h1v1h-1zM517 434h1v1h-1zM517 438h1v1h-1zM517 442h1v1h-1zM517 446h1v1h-1zM517 450h1v1h-1zM517 454h1v1h-1zM517 458h1v1h-1zM517 462h1v1h-1zM517 466h1v1h-1zM517 470h1v1h-1zM517 474h1v1h-1zM517 478h1v1h-1zM517 482h1v1h-1zM517 486h1v1h-1zM517 490h1v1h-1zM517 494h1v1h-1zM517 498h1v1h-1zM517 502h1v1h-1zM517 506h1v1h-1zM517 510h1v1h-1zM517 514h1v1h-1zM517 518h1v1h-1zM517 522h1v1h-1zM517 526h1v1h-1zM517 530h1v1h-1zM517 534h1v1h-1zM517 538h1v1h-1zM517 542h1v1h-1zM517 546h1v1h-1zM517 550h1v1h-1zM517 554h1v1h-1zM517 558h1v1h-1zM517 562h1v1h-1zM517 566h1v1h-1zM517 570h1v1h-1zM517 574h1v1h-1zM517 578h1v1h-1zM517 582h1v1h-1zM517 586h1v1h-1zM517 590h1v1h-1zM517 594h1v1h-1zM517 598h1v1h-1zM517 602h1v1h-1zM517 606h1v1h-1zM517 610h1v1h-1zM517 614h1v1h-1zM517 618h1v1h-1zM517 622h1v1h-1zM517 626h1v1h-1zM517 630h1v1h-1zM517 634h1v1h-1zM517 638h1v1h-1zM517 642h1v1h-1zM517 646h1v1h-1z"/><path fill="#000" fill-opacity="0.375" d="M173 62h1v1h-1zM173 66h1v1h-1zM173 70h1v1h-1zM173 74h1v1h-1zM173 78h1v1h-1zM173 82h1v1h-1zM173 86h1v1h-1zM173 90h1v1h-1zM173 94h1v1h-1zM173 98h1v1h-1zM173 102h1v1h-1zM173 106h1v1h-1zM173 110h1v1h-1zM173 114h1v1h-1zM173 118h1v1h-1zM173 122h1v1h-1zM173 126h1v1h-1zM173 130h1v1h-1zM173 134h1v1h-1zM173 138h1v1h-1zM173 142h1v1h-1zM173 146h1v1h-1zM173 150h1v1h-1zM173 154h1v1h-1zM173 158h1v1h-1zM173 162h1v1h-1zM173 166h1v1h-1zM173 170h1v1h-1zM173 174h1v1h-1zM173 178h1v1h-1zM173 182h1v1h-1zM173 186h1v1h-1zM173 190h1v1h-1zM173 194h1v1h-1zM173 198h1v1h-1zM173 202h1v1h-1zM173 206h1v1h-1zM173 210h1v1h-1zM173 214h1v1h-1zM173 218h1v1h-1zM173 222h1v1h-1zM173 226h1v1h-1zM173 230h1v1h-1zM173 234h1v1h-1zM173 238h1v1h-1zM173 242h1v1h-1zM173 246h1v1h-1zM173 250h1v1h-1zM173 254h1v1h-1zM173 258h1v1h-1zM173 262h1v1h-1zM173 266h1v1h-1zM173 270h1v1h-1zM173 274h1v1h-1zM173 278h1v1h-1zM173 282h1v1h-1zM173 286h1v1h-1zM173 290h1v1h-1zM173 294h1v1h-1zM173 298h1v1h-1zM173 302h1v1h-1zM173 306h1v1h-1zM173 310h1v1h-1zM173 314h1v1h-1zM173 318h1v1h-1zM173 322h1v1h-1zM173 326h1v1h-1zM173 330h1v1h-1zM173 334h1v1h-1zM173 338h1v1h-1zM173 342h1v1h-1zM173 346h1v1h-1zM173 350h1v1h-1zM173 354h1v1h-1zM173 358h1v1h-1zM173 362h1v1h-1zM173 366h1v1h-1zM173 370h1v1h-1zM173 374h1v1h-1zM173 378h1v1h-1zM173 382h1v1h-1zM173 386h1v1h-1zM173 390h1v1h-1zM173 394h1v1h-1zM173 398h1v1h-1zM173 402h1v1h-1zM173 406h1v1h-1zM173 410h1v1h-1zM173 414h1v1h-1zM173 418h1v1h-1zM173 422h1v1h-1zM173 426h1v1h-1zM173 430h1v1h-1zM173 434h1v1h-1zM173 438h1v1h-1zM173 442h1v1h-1zM173 446h1v1h-1zM173 450h1v1h-1zM173 454h1v1h-1zM173 458h1v1h-1zM173 462h1v1h-1zM173 466h1v1h-1zM173 470h1v1h-1zM173 474h1v1h-1zM173 478h1v1h-1zM173 482h1v1h-1zM173 486h1v1h-1zM173 490h1v1h-1zM173 494h1v1h-1zM173 498h1v1h-1zM173 502h1v1h-1zM173 506h1v1h-1zM173 510h1v1h-1zM173 514h1v1h-1zM173 518h1v1h-1zM173 522h1v1h-1zM173 526h1v1h-1zM173 530h1v1h-1zM173 534h1v1h-1zM173 538h1v1h-1zM173 542h1v1h-1zM173 546h1v1h-1zM173 550h1v1h-1zM173 554h1v1h-1zM173 558h1v1h-1zM173 562h1v1h-1zM173 566h1v1h-1zM173 570h1v1h-1zM173 574h1v1h-1zM173 578h1v1h-1zM173 582h1v1h-1zM173 586h1v1h-1zM173 590h1v1h-1zM173 594h1v1h-1zM173 598h1v1h-1zM173 602h1v1h-1zM173 606h1v1h-1zM173 610h1v1h-1zM173 614h1v1h-1zM173 618h1v1h-1zM173 622h1v1h-1zM173 626h1v1h-1zM173 630h1v1h-1zM173 634h1v1h-1zM173 638h1v1h-1zM173 642h1v1h-1zM173 646h1v1h-1zM345 62h1v1h-1zM345 66h1v1h-1zM345 70h1v1h-1zM345 74h1v1h-1zM345 78h1v1h-1zM345 82h1v1h-1zM345 86h1v1h-1zM345 90h1v1h-1zM345 94h1v1h-1zM345 98h1v1h-1zM345 102h1v1h-1zM345 106h1v1h-1zM345 110h1v1h-1zM345 114h1v1h-1zM345 118h1v1h-1zM345 122h1v1h-1zM345 126h1v1h-1zM345 130h1v1h-1zM345 134h1v1h-1zM345 138h1v1h-1zM345 142h1v1h-1zM345 146h1v1h-1zM345 150h1v1h-1zM345 154h1v1h-1zM345 158h1v1h-1zM345 162h1v1h-1zM345 166h1v1h-1zM345 170h1v1h-1zM345 174h1v1h-1zM345 178h1v1h-1zM345 182h1v1h-1zM345 186h1v1h-1zM345 190h1v1h-1zM345 194h1v1h-1zM345 198h1v1h-1zM345 202h1v1h-1zM345 206h1v1h-1zM345 210h1v1h-1zM345 214h1v1h-1zM345 218h1v1h-1zM345 222h1v1h-1zM345 226h1v1h-1zM345 230h1v1h-1zM345 234h1v1h-1zM345 238h1v1h-1zM345 242h1v1h-1zM345 246h1v1h-1zM345 250h1v1h-1zM345 254h1v1h-1zM345 258h1v1h-1zM345 262h1v1h-1zM345 266h1v1h-1zM345 270h1v1h-1zM345 274h1v1h-1zM345 278h1v1h-1zM345 282h1v1h-1zM345 286h1v1h-1zM345 290h1v1h-1zM345 294h1v1h-1zM345 298h1v1h-1zM345 302h1v1h-1zM345 306h1v1h-1zM345 310h1v1h-1zM345 314h1v1h-1zM345 318h1v1h-1zM345 322h1v1h-1zM345 326h1v1h-1zM345 330h1v1h-1zM345 334h1v1h-1zM345 338h1v1h-1zM345 342h1v1h-1zM345 346h1v1h-1zM345 350h1v1h-1zM345 354h1v1h-1zM345 358h1v1h-1zM345 362h1v1h-1zM345 366h1v1h-1zM345 370h1v1h-1zM345 374h1v1h-1zM345 378h1v1h-1zM345 382h1v1h-1zM345 386h1v1h-1zM345 390h1v1h-1zM345 394h1v1h-1zM345 398h1v1h-1zM345 402h1v1h-1zM345 406h1v1h-1zM345 410h1v1h-1zM345 414h1v1h-1zM345 418h1v1h-1zM345 422h1v1h-1zM345 426h1v1h-1zM345 430h1v1h-1zM345 434h1v1h-1zM345 438h1v1h-1zM345 442h1v1h-1zM345 446h1v1h-1zM345 450h1v1h-1zM345 454h1v1h-1zM345 458h1v1h-1zM345 462h1v1h-1zM345 466h1v1h-1zM345 470h1v1h-1zM345 474h1v1h-1zM345 478h1v1h-1zM345 482h1v1h-1zM345 486h1v1h-1zM345 490h1v1h-1zM345 494h1v1h-1zM345 498h1v1h-1zM345 502h1v1h-1zM345 506h1v1h-1zM345 510h1v1h-1zM345 514h1v1h-1zM345 518h1v1h-1zM345 522h1v1h-1zM345 526h1v1h-1zM345 530h1v1h-1zM345 534h1v1h-1zM345 538h1v1h-1zM345 542h1v1h-1zM345 546h1v1h-1zM345 550h1v1h-1zM345 554h1v1h-1zM345 558h1v1h-1zM345 562h1v1h-1zM345 566h1v1h-1zM345 570h1v1h-1zM345 574h1v1h-1zM345 578h1v1h-1zM345 582h1v1h-1zM345 586h1v1h-1zM345 590h1v1h-1zM345 594h1v1h-1zM345 598h1v1h-1zM345 602h1v1h-1zM345 606h1v1h-1zM345 610h1v1h-1zM345 614h1v1h-1zM345 618h1v1h-1zM345 622h1v1h-1zM345 626h1v1h-1zM345 630h1v1h-1zM345 634h1v1h-1zM345 638h1v1h-1zM345 642h1v1h-1zM345 646h1v1h-1zM403 62h1v1h-1zM403 66h1v1h-1zM403 70h1v1h-1zM403 74h1v1h-1zM403 78h1v1h-1zM403 82h1v1h-1zM403 86h1v1h-1zM403 90h1v1h-1zM403 94h1v1h-1zM403 98h1v1h-1zM403 102h1v1h-1zM403 106h1v1h-1zM403 110h1v1h-1zM403 114h1v1h-1zM403 118h1v1h-1zM403 122h1v1h-1zM403 126h1v1h-1zM403 130h1v1h-1zM403 134h1v1h-1zM403 138h1v1h-1zM403 142h1v1h-1zM403 146h1v1h-1zM403 150h1v1h-1zM403 154h1v1h-1zM403 158h1v1h-1zM403 162h1v1h-1zM403 166h1v1h-1zM403 170h1v1h-1zM403 174h1v1h-1zM403 178h1v1h-1zM403 182h1v1h-1zM403 186h1v1h-1zM403 190h1v1h-1zM403 194h1v1h-1zM403 198h1v1h-1zM403 202h1v1h-1zM403 206h1v1h-1zM403 210h1v1h-1zM403 214h1v1h-1zM403 218h1v1h-1zM403 222h1v1h-1zM403 226h1v1h-1zM403 230h1v1h-1zM403 234h1v1h-1zM403 238h1v1h-1zM403 242h1v1h-1zM403 246h1v1h-1zM403 250h1v1h-1zM403 254h1v1h-1zM403 258h1v1h-1zM403 262h1v1h-1zM403 266h1v1h-1zM403 270h1v1h-1zM403 274h1v1h-1zM403 278h1v1h-1zM403 282h1v1h-1zM403 286h1v1h-1zM403 290h1v1h-1zM403 294h1v1h-1zM403 298h1v1h-1zM403 302h1v1h-1zM403 306h1v1h-1zM403 310h1v1h-1zM403 314h1v1h-1zM403 318h1v1h-1zM403 322h1v1h-1zM403 326h1v1h-1zM403 330h1v1h-1zM403 334h1v1h-1zM403 338h1v1h-1zM403 342h1v1h-1zM403 346h1v1h-1zM403 350h1v1h-1zM403 354h1v1h-1zM403 358h1v1h-1zM403 362h1v1h-1zM403 366h1v1h-1zM403 370h1v1h-1zM403 374h1v1h-1zM403 378h1v1h-1zM403 382h1v1h-1zM403 386h1v1h-1zM403 390h1v1h-1zM403 394h1v1h-1zM403 398h1v1h-1zM403 402h1v1h-1zM403 406h1v1h-1zM403 410h1v1h-1zM403 414h1v1h-1zM403 418h1v1h-1zM403 422h1v1h-1zM403 426h1v1h-1zM403 430h1v1h-1zM403 434h1v1h-1zM403 438h1v1h-1zM403 442h1v1h-1zM403 446h1v1h-1zM403 450h1v1h-1zM403 454h1v1h-1zM403 458h1v1h-1zM403 462h1v1h-1zM403 466h1v1h-1zM403 470h1v1h-1zM403 474h1v1h-1zM403 478h1v1h-1zM403 482h1v1h-1zM403 486h1v1h-1zM403 490h1v1h-1zM403 494h1v1h-1zM403 498h1v1h-1zM403 502h1v1h-1zM403 506h1v1h-1zM403 510h1v1h-1zM403 514h1v1h-1zM403 518h1v1h-1zM403 522h1v1h-1zM403 526h1v1h-1zM403 530h1v1h-1zM403 534h1v1h-1zM403 538h1v1h-1zM403 542h1v1h-1zM403 546h1v1h-1zM403 550h1v1h-1zM403 554h1v1h-1zM403 558h1v1h-1zM403 562h1v1h-1zM403 566h1v1h-1zM403 570h1v1h-1zM403 574h1v1h-1zM403 578h1v1h-1zM403 582h1v1h-1zM403 586h1v1h-1zM403 590h1v1h-1zM403 594h1v1h-1zM403 598h1v1h-1zM403 602h1v1h-1zM403 606h1v1h-1zM403 610h1v1h-1zM403 614h1v1h-1zM403 618h1v1h-1zM403 622h1v1h-1zM403 626h1v1h-1zM403 630h1v1h-1zM403 634h1v1h-1zM403 638h1v1h-1zM403 642h1v1h-1zM403 646h1v1h-1zM575 62h1v1h-1zM575 66h1v1h-1zM575 70h1v1h-1zM575 74h1v1h-1zM575 78h1v1h-1zM575 82h1v1h-1zM575 86h1v1h-1zM575 90h1v1h-1zM575 94h1v1h-1zM575 98h1v1h-1zM575 102h1v1h-1zM575 106h1v1h-1zM575 110h1v1h-1zM575 114h1v1h-1zM575 118h1v1h-1zM575 122h1v1h-1zM575 126h1v1h-1zM575 130h1v1h-1zM575 134h1v1h-1zM575 138h1v1h-1zM575 142h1v1h-1zM575 146h1v1h-1zM575 150h1v1h-1zM575 154h1v1h-1zM575 158h1v1h-1zM575 162h1v1h-1zM575 166h1v1h-1zM575 170h1v1h-1zM575 174h1v1h-1zM575 178h1v1h-1zM575 182h1v1h-1zM575 186h1v1h-1zM575 190h1v1h-1zM575 194h1v1h-1zM575 198h1v1h-1zM575 202h1v1h-1zM575 206h1v1h-1zM575 210h1v1h-1zM575 214h1v1h-1zM575 218h1v1h-1zM575 222h1v1h-1zM575 226h1v1h-1zM575 230h1v1h-1zM575 234h1v1h-1zM575 238h1v1h-1zM575 242h1v1h-1zM575 246h1v1h-1zM575 250h1v1h-1zM575 254h1v1h-1zM575 258h1v1h-1zM575 262h1v1h-1zM575 266h1v1h-1zM575 270h1v1h-1zM575 274h1v1h-1zM575 278h1v1h-1zM575 282h1v1h-1zM575 286h1v1h-1zM575 290h1v1h-1zM575 294h1v1h-1zM575 298h1v1h-1zM575 302h1v1h-1zM575 306h1v1h-1zM575 310h1v1h-1zM575 314h1v1h-1zM575 318h1v1h-1zM575 322h1v1h-1zM575 326h1v1h-1zM575 330h1v1h-1zM575 334h1v1h-1zM575 338h1v1h-1zM575 342h1v1h-1zM575 346h1v1h-1zM575 350h1v1h-1zM575 354h1v1h-1zM575 358h1v1h-1zM575 362h1v1h-1zM575 366h1v1h-1zM575 370h1v1h-1zM575 374h1v1h-1zM575 378h1v1h-1zM575 382h1v1h-1zM575 386h1v1h-1zM575 390h1v1h-1zM575 394h1v1h-1zM575 398h1v1h-1zM575 402h1v1h-1zM575 406h1v1h-1zM575 410h1v1h-1zM575 414h1v1h-1zM575 418h1v1h-1zM575 422h1v1h-1zM575 426h1v1h-1zM575 430h1v1h-1zM575 434h1v1h-1zM575 438h1v1h-1zM575 442h1v1h-1zM575 446h1v1h-1zM575 450h1v1h-1zM575 454h1v1h-1zM575 458h1v1h-1zM575 462h1v1h-1zM575 466h1v1h-1zM575 470h1v1h-1zM575 474h1v1h-1zM575 478h1v1h-1zM575 482h1v1h-1zM575 486h1v1h-1zM575 490h1v1h-1zM575 494h1v1h-1zM575 498h1v1h-1zM575 502h1v1h-1zM575 506h1v1h-1zM575 510h1v1h-1zM575 514h1v1h-1zM575 518h1v1h-1zM575 522h1v1h-1zM575 526h1v1h-1zM575 530h1v1h-1zM575 534h1v1h-1zM575 538h1v1h-1zM575 542h1v1h-1zM575 546h1v1h-1zM575 550h1v1h-1zM575 554h1v1h-1zM575 558h1v1h-1zM575 562h1v1h-1zM575 566h1v1h-1zM575 570h1v1h-1zM575 574h1v1h-1zM575 578h1v1h-1zM575 582h1v1h-1zM575 586h1v1h-1zM575 590h1v1h-1zM575 594h1v1h-1zM575 598h1v1h-1zM575 602h1v1h-1zM575 606h1v1h-1zM575 610h1v1h-1zM575 614h1v1h-1zM575 618h1v1h-1zM575 622h1v1h-1zM575 626h1v1h-1zM575 630h1v1h-1zM575 634h1v1h-1zM575 638h1v1h-1zM575 642h1v1h-1zM575 646h1v1h-1z"/><path fill="#000" fill-opacity="0.500" d="M116 62h1v1h-1zM116 66h1v1h-1zM116 70h1v1h-1zM116 74h1v1h-1zM116 78h1v1h-1zM116 82h1v1h-1zM116 86h1v1h-1zM116 90h1v1h-1zM116 94h1v1h-1zM116 98h1v1h-1zM116 102h1v1h-1zM116 106h1v1h-1zM116 110h1v1h-1zM116 114h1v1h-1zM116 118h1v1h-1zM116 122h1v1h-1zM116 126h1v1h-1zM116 130h1v1h-1zM116 134h1v1h-1zM116 138h1v1h-1zM116 142h1v1h-1zM116 146h1v1h-1zM116 150h1v1h-1zM116 154h1v1h-1zM116 158h1v1h-1zM116 162h1v1h-1zM116 166h1v1h-1zM116 170h1v1h-1zM116 174h1v1h-1zM116 178h1v1h-1zM116 182h1v1h-1zM116 186h1v1h-1zM116 190h1v1h-1zM116 194h1v1h-1zM116 198h1v1h-1zM116 202h1v1h-1zM116 206h1v1h-1zM116 210h1v1h-1zM116 214h1v1h-1zM116 218h1v1h-1zM116 222h1v1h-1zM116 226h1v1h-1zM116 230h1v1h-1zM116 234h1v1h-1zM116 238h1v1h-1zM116 242h1v1h-1zM116 246h1v1h-1zM116 250h1v1h-1zM116 254h1v1h-1zM116 258h1v1h-1zM116 262h1v1h-1zM116 266h1v1h-1zM116 270h1v1h-1zM116 274h1v1h-1zM116 278h1v1h-1zM116 282h1v1h-1zM116 286h1v1h-1zM116 290h1v1h-1zM116 294h1v1h-1zM116 298h1v1h-1zM116 302h1v1h-1zM116 306h1v1h-1zM116 310h1v1h-1zM116 314h1v1h-1zM116 318h1v1h-1zM116 322h1v1h-1zM116 326h1v1h-1zM116 330h1v1h-1zM116 334h1v1h-1zM116 338h1v1h-1zM116 342h1v1h-1zM116 346h1v1h-1zM116 350h1v1h-1zM116 354h1v1h-1zM116 358h1v1h-1zM116 362h1v1h-1zM116 366h1v1h-1zM116 370h1v1h-1zM116 374h1v1h-1zM116 378h1v1h-1zM116 382h1v1h-1zM116 386h1v1h-1zM116 390h1v1h-1zM116 394h1v1h-1zM116 398h1v1h-1zM116 402h1v1h-1zM116 406h1v1h-1zM116 410h1v1h-1zM116 414h1v1h-1zM116 418h1v1h-1zM116 422h1v1h-1zM116 426h1v1h-1zM116 430h1v1h-1zM116 434h1v1h-1zM116 438h1v1h-1zM116 442h1v1h-1zM116 446h1v1h-1zM116 450h1v1h-1zM116 454h1v1h-1zM116 458h1v1h-1zM116 462h1v1h-1zM116 466h1v1h-1zM116 470h1v1h-1zM116 474h1v1h-1zM116 478h1v1h-1zM116 482h1v1h-1zM116 486h1v1h-1zM116 490h1v1h-1zM116 494h1v1h-1zM116 498h1v1h-1zM116 502h1v1h-1zM116 506h1v1h-1zM116 510h1v1h-1zM116 514h1v1h-1zM116 518h1v1h-1zM116 522h1v1h-1zM116 526h1v1h-1zM116 530h1v1h-1zM116 534h1v1h-1zM116 538h1v1h-1zM116 542h1v1h-1zM116 546h1v1h-1zM116 550h1v1h-1zM116 554h1v1h-1zM116 558h1v1h-1zM116 562h1v1h-1zM116 566h1v1h-1zM116 570h1v1h-1zM116 574h1v1h-1zM116 578h1v1h-1zM116 582h1v1h-1zM116 586h1v1h-1zM116 590h1v1h-1zM116 594h1v1h-1zM116 598h1v1h-1zM116 602h1v1h-1zM116 606h1v1h-1zM116 610h1v1h-1zM116 614h1v1h-1zM116 618h1v1h-1zM116 622h1v1h-1zM116 626h1v1h-1zM116 630h1v1h-1zM116 634h1v1h-1zM116 638h1v1h-1zM116 642h1v1h-1zM116 646h1v1h-1zM288 62h1v1h-1zM288 66h1v1h-1zM288 70h1v1h-1zM288 74h1v1h-1zM288 78h1v1h-1zM288 82h1v1h-1zM288 86h1v1h-1zM288 90h1v1h-1zM288 94h1v1h-1zM288 98h1v1h-1zM288 102h1v1h-1zM288 106h1v1h-1zM288 110h1v1h-1zM288 114h1v1h-1zM288 118h1v1h-1zM288 122h1v1h-1zM288 126h1v1h-1zM288 130h1v1h-1zM288 134h1v1h-1zM288 138h1v1h-1zM288 142h1v1h-1zM288 146h1v1h-1zM288 150h1v1h-1zM288 154h1v1h-1zM288 158h1v1h-1zM288 162h1v1h-1zM288 166h1v1h-1zM288 170h1v1h-1zM288 174h1v1h-1zM288 178h1v1h-1zM288 182h1v1h-1zM288 186h1v1h-1zM288 190h1v1h-1zM288 194h1v1h-1zM288 198h1v1h-1zM288 202h1v1h-1zM288 206h1v1h-1zM288 210h1v1h-1zM288 214h1v1h-1zM288 218h1v1h-1zM288 222h1v1h-1zM288 226h1v1h-1zM288 230h1v1h-1zM288 234h1v1h-1zM288 238h1v1h-1zM288 242h1v1h-1zM288 246h1v1h-1zM288 250h1v1h-1zM288 254h1v1h-1zM288 258h1v1h-1zM288 262h1v1h-1zM288 266h1v1h-1zM288 270h1v1h-1zM288 274h1v1h-1zM288 278h1v1h-1zM288 282h1v1h-1zM288 286h1v1h-1zM288 290h1v1h-1zM288 294h1v1h-1zM288 298h1v1h-1zM288 302h1v1h-1zM288 306h1v1h-1zM288 310h1v1h-1zM288 314h1v1h-1zM288 318h1v1h-1zM288 322h1v1h-1zM288 326h1v1h-1zM288 330h1v1h-1zM288 334h1v1h-1zM288 338h1v1h-1zM288 342h1v1h-1zM288 346h1v1h-1zM288 350h1v1h-1zM288 354h1v1h-1zM288 358h1v1h-1zM288 362h1v1h-1zM288 366h1v1h-1zM288 370h1v1h-1zM288 374h1v1h-1zM288 378h1v1h-1zM288 382h1v1h-1zM288 386h1v1h-1zM288 390h1v1h-1zM288 394h1v1h-1zM288 398h1v1h-1zM288 402h1v1h-1zM288 406h1v1h-1zM288 410h1v1h-1zM288 414h1v1h-1zM288 418h1v1h-1zM288 422h1v1h-1zM288 426h1v1h-1zM288 430h1v1h-1zM288 434h1v1h-1zM288 438h1v1h-1zM288 442h1v1h-1zM288 446h1v1h-1zM288 450h1v1h-1zM288 454h1v1h-1zM288 458h1v1h-1zM288 462h1v1h-1zM288 466h1v1h-1zM288 470h1v1h-1zM288 474h1v1h-1zM288 478h1v1h-1zM288 482h1v1h-1zM288 486h1v1h-1zM288 490h1v1h-1zM288 494h1v1h-1zM288 498h1v1h-1zM288 502h1v1h-1zM288 506h1v1h-1zM288 510h1v1h-1zM288 514h1v1h-1zM288 518h1v1h-1zM288 522h1v1h-1zM288 526h1v1h-1zM288 530h1v1h-1zM288 534h1v1h-1zM288 538h1v1h-1zM288 542h1v1h-1zM288 546h1v1h-1zM288 550h1v1h-1zM288 554h1v1h-1zM288 558h1v1h-1zM288 562h1v1h-1zM288 566h1v1h-1zM288 570h1v1h-1zM288 574h1v1h-1zM288 578h1v1h-1zM288 582h1v1h-1zM288 586h1v1h-1zM288 590h1v1h-1zM288 594h1v1h-1zM288 598h1v1h-1zM288 602h1v1h-1zM288 606h1v1h-1zM288 610h1v1h-1zM288 614h1v1h-1zM288 618h1v1h-1zM288 622h1v1h-1zM288 626h1v1h-1zM288 630h1v1h-1zM288 634h1v1h-1zM288 638h1v1h-1zM288 642h1v1h-1zM288 646h1v1h-1zM460 62h1v1h-1zM460 66h1v1h-1zM460 70h1v1h-1zM460 74h1v1h-1zM460 78h1v1h-1zM460 82h1v1h-1zM460 86h1v1h-1zM460 90h1v1h-1zM460 94h1v1h-1zM460 98h1v1h-1zM460 102h1v1h-1zM460 106h1v1h-1zM460 110h1v1h-1zM460 114h1v1h-1zM460 118h1v1h-1zM460 122h1v1h-1zM460 126h1v1h-1zM460 130h1v1h-1zM460 134h1v1h-1zM460 138h1v1h-1zM460 142h1v1h-1zM460 146h1v1h-1zM460 150h1v1h-1zM460 154h1v1h-1zM460 158h1v1h-1zM460 162h1v1h-1zM460 166h1v1h-1zM460 170h1v1h-1zM460 174h1v1h-1zM460 178h1v1h-1zM460 182h1v1h-1zM460 186h1v1h-1zM460 190h1v1h-1zM460 194h1v1h-1zM460 198h1v1h-1zM460 202h1v1h-1zM460 206h1v1h-1zM460 210h1v1h-1zM460 214h1v1h-1zM460 218h1v1h-1zM460 222h1v1h-1zM460 226h1v1h-1zM460 230h1v1h-1zM460 234h1v1h-1zM460 238h1v1h-1zM460 242h1v1h-1zM460 246h1v1h-1zM460 250h1v1h-1zM460 254h1v1h-1zM460 258h1v1h-1zM460 262h1v1h-1zM460 266h1v1h-1zM460 270h1v1h-1zM460 274h1v1h-1zM460 278h1v1h-1zM460 282h1v1h-1zM460 286h1v1h-1zM460 290h1v1h-1zM460 294h1v1h-1zM460 298h1v1h-1zM460 302h1v1h-1zM460 306h1v1h-1zM460 310h1v1h-1zM460 314h1v1h-1zM460 318h1v1h-1zM460 322h1v1h-1zM460 326h1v1h-1zM460 330h1v1h-1zM460 334h1v1h-1zM460 338h1v1h-1zM460 342h1v1h-1zM460 346h1v1h-1zM460 350h1v1h-1zM460 354h1v1h-1zM460 358h1v1h-1zM460 362h1v1h-1zM460 366h1v1h-1zM460 370h1v1h-1zM460 374h1v1h-1zM460 378h1v1h-1zM460 382h1v1h-1zM460 386h1v1h-1zM460 390h1v1h-1zM460 394h1v1h-1zM460 398h1v1h-1zM460 402h1v1h-1zM460 406h1v1h-1zM460 410h1v1h-1zM460 414h1v1h-1zM460 418h1v1h-1zM460 422h1v1h-1zM460 426h1v1h-1zM460 430h1v1h-1zM460 434h1v1h-1zM460 438h1v1h-1zM460 442h1v1h-1zM460 446h1v1h-1zM460 450h1v1h-1zM460 454h1v1h-1zM460 458h1v1h-1zM460 462h1v1h-1zM460 466h1v1h-1zM460 470h1v1h-1zM460 474h1v1h-1zM460 478h1v1h-1zM460 482h1v1h-1zM460 486h1v1h-1zM460 490h1v1h-1zM460 494h1v1h-1zM460 498h1v1h-1zM460 502h1v1h-1zM460 506h1v1h-1zM460 510h1v1h-1zM460 514h1v1h-1zM460 518h1v1h-1zM460 522h1v1h-1zM460 526h1v1h-1zM460 530h1v1h-1zM460 534h1v1h-1zM460 538h1v1h-1zM460 542h1v1h-1zM460 546h1v1h-1zM460 550h1v1h-1zM460 554h1v1h-1zM460 558h1v1h-1zM460 562h1v1h-1zM460 566h1v1h-1zM460 570h1v1h-1zM460 574h1v1h-1zM460 578h1v1h-1zM460 582h1v1h-1zM460 586h1v1h-1zM460 590h1v1h-1zM460 594h1v1h-1zM460 598h1v1h-1zM460 602h1v1h-1zM460 606h1v1h-1zM460 610h1v1h-1zM460 614h1v1h-1zM460 618h1v1h-1zM460 622h1v1h-1zM460 626h1v1h-1zM460 630h1v1h-1zM460 634h1v1h-1zM460 638h1v1h-1zM460 642h1v1h-1zM460 646h1v1h-1zM632 62h1v1h-1zM632 66h1v1h-1zM632 70h1v1h-1zM632 74h1v1h-1zM632 78h1v1h-1zM632 82h1v1h-1zM632 86h1v1h-1zM632 90h1v1h-1zM632 94h1v1h-1zM632 98h1v1h-1zM632 102h1v1h-1zM632 106h1v1h-1zM632 110h1v1h-1zM632 114h1v1h-1zM632 118h1v1h-1zM632 122h1v1h-1zM632 126h1v1h-1zM632 130h1v1h-1zM632 134h1v1h-1zM632 138h1v1h-1zM632 142h1v1h-1zM632 146h1v1h-1zM632 150h1v1h-1zM632 154h1v1h-1zM632 158h1v1h-1zM632 162h1v1h-1zM632 166h1v1h-1zM632 170h1v1h-1zM632 174h1v1h-1zM632 178h1v1h-1zM632 182h1v1h-1zM632 186h1v1h-1zM632 190h1v1h-1zM632 194h1v1h-1zM632 198h1v1h-1zM632 202h1v1h-1zM632 206h1v1h-1zM632 210h1v1h-1zM632 214h1v1h-1zM632 218h1v1h-1zM632 222h1v1h-1zM632 226h1v1h-1zM632 230h1v1h-1zM632 234h1v1h-1zM632 238h1v1h-1zM632 242h1v1h-1zM632 246h1v1h-1zM632 250h1v1h-1zM632 254h1v1h-1zM632 258h1v1h-1zM632 262h1v1h-1zM632 266h1v1h-1zM632 270h1v1h-1zM632 274h1v1h-1zM632 278h1v1h-1zM632 282h1v1h-1zM632 286h1v1h-1zM632 290h1v1h-1zM632 294h1v1h-1zM632 298h1v1h-1zM632 302h1v1h-1zM632 306h1v1h-1zM632 310h1v1h-1zM632 314h1v1h-1zM632 318h1v1h-1zM632 322h1v1h-1zM632 326h1v1h-1zM632 330h1v1h-1zM632 334h1v1h-1zM632 338h1v1h-1zM632 342h1v1h-1zM632 346h1v1h-1zM632 350h1v1h-1zM632 354h1v1h-1zM632 358h1v1h-1zM632 362h1v1h-1zM632 366h1v1h-1zM632 370h1v1h-1zM632 374h1v1h-1zM632 378h1v1h-1zM632 382h1v1h-1zM632 386h1v1h-1zM632 390h1v1h-1zM632 394h1v1h-1zM632 398h1v1h-1zM632 402h1v1h-1zM632 406h1v1h-1zM632 410h1v1h-1zM632 414h1v1h-1zM632 418h1v1h-1zM632 422h1v1h-1zM632 426h1v1h-1zM632 430h1v1h-1zM632 434h1v1h-1zM632 438h1v1h-1zM632 442h1v1h-1zM632 446h1v1h-1zM632 450h1v1h-1zM632 454h1v1h-1zM632 458h1v1h-1zM632 462h1v1h-1zM632 466h1v1h-1zM632 470h1v1h-1zM632 474h1v1h-1zM632 478h1v1h-1zM632 482h1v1h-1zM632 486h1v1h-1zM632 490h1v1h-1zM632 494h1v1h-1zM632 498h1v1h-1zM632 502h1v1h-1zM632 506h1v1h-1zM632 510h1v1h-1zM632 514h1v1h-1zM632 518h1v1h-1zM632 522h1v1h-1zM632 526h1v1h-1zM632 530h1v1h-1zM632 534h1v1h-1zM632 538h1v1h-1zM632 542h1v1h-1zM632 546h1v1h-1zM632 550h1v1h-1zM632 554h1v1h-1zM632 558h1v1h-1zM632 562h1v1h-1zM632 566h1v1h-1zM632 570h1v1h-1zM632 574h1v1h-1zM632 578h1v1h-1zM632 582h1v1h-1zM632 586h1v1h-1zM632 590h1v1h-1zM632 594h1v1h-1zM632 598h1v1h-1zM632 602h1v1h-1zM632 606h1v1h-1zM632 610h1v1h-1zM632 614h1v1h-1zM632 618h1v1h-1zM632 622h1v1h-1zM632 626h1v1h-1zM632 630h1v1h-1zM632 634h1v1h-1zM632 638h1v1h-1zM632 642h1v1h-1zM632 646h1v1h-1z"/></g>
<g shape-rendering="crispEdges"><rect x="58" y="58" width="1" height="1" fill="#000" fill-opacity="0.107"/><rect x="58" y="59" width="1" height="1" fill="#000" fill-opacity="0.208"/><rect x="59" y="58" width="631" height="1" fill="#000" fill-opacity="0.282"/><rect x="59" y="59" width="631" height="1" fill="#000" fill-opacity="0.548"/><rect x="690" y="58" width="1" height="1" fill="#000" fill-opacity="0.099"/><rect x="690" y="59" width="1" height="1" fill="#000" fill-opacity="0.192"/><rect x="58" y="646" width="1" height="1" fill="#000" fill-opacity="0.300"/><rect x="58" y="647" width="1" height="1" fill="#000" fill-opacity="0.016"/><rect x="59" y="646" width="631" height="1" fill="#000" fill-opacity="0.789"/><rect x="59" y="647" width="631" height="1" fill="#000" fill-opacity="0.041"/><rect x="690" y="646" width="1" height="1" fill="#000" fill-opacity="0.276"/><rect x="690" y="647" width="1" height="1" fill="#000" fill-opacity="0.015"/><rect x="58" y="59" width="1" height="1" fill="#000" fill-opacity="0.107"/><rect x="58" y="60" width="1" height="586" fill="#000" fill-opacity="0.315"/><rect x="58" y="646" width="1" height="1" fill="#000" fill-opacity="0.016"/><rect x="59" y="59" width="1" height="1" fill="#000" fill-opacity="0.175"/><rect x="59" y="60" width="1" height="586" fill="#000" fill-opacity="0.515"/><rect x="59" y="646" width="1" height="1" fill="#000" fill-opacity="0.026"/><rect x="689" y="59" width="1" height="1" fill="#000" fill-opacity="0.183"/><rect x="689" y="60" width="1" height="586" fill="#000" fill-opacity="0.539"/><rect x="689" y="646" width="1" height="1" fill="#000" fill-opacity="0.027"/><rect x="690" y="59" width="1" height="1" fill="#000" fill-opacity="0.099"/><rect x="690" y="60" width="1" height="586" fill="#000" fill-opacity="0.291"/><rect x="690" y="646" width="1" height="1" fill="#000" fill-opacity="0.015"/><rect x="59" y="59" width="1" height="1" fill="#000" fill-opacity="0.400"/><rect x="689" y="59" width="1" height="1" fill="#000" fill-opacity="0.400"/><rect x="59" y="646" width="1" height="1" fill="#000" fill-opacity="0.400"/><rect x="689" y="646" width="1" height="1" fill="#000" fill-opacity="0.400"/><rect x="81" y="646" width="1" height="1" fill="#000" fill-opacity="0.079"/><rect x="82" y="646" width="584" height="1" fill="#000" fill-opacity="0.789"/><rect x="82" y="647" width="584" height="1" fill="#000" fill-opacity="0.041"/><rect x="666" y="646" width="1" height="1" fill="#000" fill-opacity="0.710"/><rect x="666" y="647" width="1" height="1" fill="#000" fill-opacity="0.037"/><rect x="58" y="119" width="1" height="1" fill="#000" fill-opacity="0.064"/><rect x="58" y="120" width="1" height="449" fill="#000" fill-opacity="0.315"/><rect x="58" y="569" width="1" height="1" fill="#000" fill-opacity="0.203"/><rect x="59" y="119" width="1" height="1" fill="#000" fill-opacity="0.104"/><rect x="59" y="120" width="1" height="449" fill="#000" fill-opacity="0.515"/><rect x="59" y="569" width="1" height="1" fill="#000" fill-opacity="0.331"/><rect x="82" y="647" width="1" height="1" fill="#000" fill-opacity="0.789"/><rect x="82" y="648" width="1" height="6" fill="#000" fill-opacity="0.830"/><rect x="82" y="654" width="1" height="1" fill="#000" fill-opacity="0.216"/><rect x="140" y="647" width="1" height="1" fill="#000" fill-opacity="0.473"/><rect x="140" y="648" width="1" height="6" fill="#000" fill-opacity="0.498"/><rect x="140" y="654" width="1" height="1" fill="#000" fill-opacity="0.129"/><rect x="141" y="647" width="1" height="1" fill="#000" fill-opacity="0.315"/><rect x="141" y="648" width="1" height="6" fill="#000" fill-opacity="0.332"/><rect x="141" y="654" width="1" height="1" fill="#000" fill-opacity="0.086"/><rect x="198" y="647" width="1" height="1" fill="#000" fill-opacity="0.158"/><rect x="198" y="648" width="1" height="6" fill="#000" fill-opacity="0.166"/><rect x="198" y="654" width="1" height="1" fill="#000" fill-opacity="0.043"/><rect x="199" y="647" width="1" height="1" fill="#000" fill-opacity="0.631"/><rect x="199" y="648" width="1" height="6" fill="#000" fill-opacity="0.664"/><rect x="199" y="654" width="1" height="1" fill="#000" fill-opacity="0.173"/><rect x="257" y="647" width="1" height="1" fill="#000" fill-opacity="0.631"/><rect x="257" y="648" width="1" height="6" fill="#000" fill-opacity="0.664"/><rect x="257" y="654" width="1" height="1" fill="#000" fill-opacity="0.173"/><rect x="258" y="647" width="1" height="1" fill="#000" fill-opacity="0.158"/><rect x="258" y="648" width="1" height="6" fill="#000" fill-opacity="0.166"/><rect x="258" y="654" width="1" height="1" fill="#000" fill-opacity="0.043"/><rect x="315" y="647" width="1" height="1" fill="#000" fill-opacity="0.315"/><rect x="315" y="648" width="1" height="6" fill="#000" fill-opacity="0.332"/><rect x="315" y="654" width="1" height="1" fill="#000" fill-opacity="0.086"/><rect x="316" y="647" width="1" height="1" fill="#000" fill-opacity="0.473"/><rect x="316" y="648" width="1" height="6" fill="#000" fill-opacity="0.498"/><rect x="316" y="654" width="1" height="1" fill="#000" fill-opacity="0.129"/><rect x="374" y="647" width="1" height="1" fill="#000" fill-opacity="0.788"/><rect x="374" y="648" width="1" height="6" fill="#000" fill-opacity="0.830"/><rect x="374" y="654" width="1" height="1" fill="#000" fill-opacity="0.216"/><rect x="432" y="647" width="1" height="1" fill="#000" fill-opacity="0.473"/><rect x="432" y="648" width="1" height="6" fill="#000" fill-opacity="0.498"/><rect x="432" y="654" width="1" height="1" fill="#000" fill-opacity="0.129"/><rect x="433" y="647" width="1" height="1" fill="#000" fill-opacity="0.315"/><rect x="433" y="648" width="1" height="6" fill="#000" fill-opacity="0.332"/><rect x="433" y="654" width="1" height="1" fill="#000" fill-opacity="0.086"/><rect x="490" y="647" width="1" height="1" fill="#000" fill-opacity="0.158"/><rect x="490" y="648" width="1" height="6" fill="#000" fill-opacity="0.166"/><rect x="490" y="654" width="1" height="1" fill="#000" fill-opacity="0.043"/><rect x="491" y="647" width="1" height="1" fill="#000" fill-opacity="0.631"/><rect x="491" y="648" width="1" height="6" fill="#000" fill-opacity="0.664"/><rect x="491" y="654" width="1" height="1" fill="#000" fill-opacity="0.173"/><rect x="549" y="647" width="1" height="1" fill="#000" fill-opacity="0.631"/><rect x="549" y="648" width="1" height="6" fill="#000" fill-opacity="0.664"/><rect x="549" y="654" width="1" height="1" fill="#000" fill-opacity="0.173"/><rect x="550" y="647" width="1" height="1" fill="#000" fill-opacity="0.158"/><rect x="550" y="648" width="1" height="6" fill="#000" fill-opacity="0.166"/><rect x="550" y="654" width="1" height="1" fill="#000" fill-opacity="0.043"/><rect x="607" y="647" width="1" height="1" fill="#000" fill-opacity="0.315"/><rect x="607" y="648" width="1" height="6" fill="#000" fill-opacity="0.332"/><rect x="607" y="654" width="1" height="1" fill="#000" fill-opacity="0.086"/><rect x="608" y="647" width="1" height="1" fill="#000" fill-opacity="0.473"/><rect x="608" y="648" width="1" height="6" fill="#000" fill-opacity="0.498"/><rect x="608" y="654" width="1" height="1" fill="#000" fill-opacity="0.129"/><rect x="666" y="647" width="1" height="1" fill="#000" fill-opacity="0.789"/><rect x="666" y="648" width="1" height="6" fill="#000" fill-opacity="0.830"/><rect x="666" y="654" width="1" height="1" fill="#000" fill-opacity="0.216"/><rect x="51" y="568" width="1" height="1" fill="#000" fill-opacity="0.195"/><rect x="51" y="569" width="1" height="1" fill="#000" fill-opacity="0.352"/><rect x="52" y="568" width="6" height="1" fill="#000" fill-opacity="0.296"/><rect x="52" y="569" width="6" height="1" fill="#000" fill-opacity="0.534"/><rect x="58" y="568" width="1" height="1" fill="#000" fill-opacity="0.184"/><rect x="58" y="569" width="1" height="1" fill="#000" fill-opacity="0.331"/><rect x="51" y="478" width="1" height="1" fill="#000" fill-opacity="0.069"/><rect x="51" y="479" width="1" height="1" fill="#000" fill-opacity="0.479"/><rect x="52" y="478" width="6" height="1" fill="#000" fill-opacity="0.104"/><rect x="52" y="479" width="6" height="1" fill="#000" fill-opacity="0.726"/><rect x="58" y="478" width="1" height="1" fill="#000" fill-opacity="0.065"/><rect x="58" y="479" width="1" height="1" fill="#000" fill-opacity="0.450"/><rect x="51" y="389" width="1" height="1" fill="#000" fill-opacity="0.490"/><rect x="51" y="390" width="1" height="1" fill="#000" fill-opacity="0.058"/><rect x="52" y="389" width="6" height="1" fill="#000" fill-opacity="0.743"/><rect x="52" y="390" width="6" height="1" fill="#000" fill-opacity="0.087"/><rect x="58" y="389" width="1" height="1" fill="#000" fill-opacity="0.460"/><rect x="58" y="390" width="1" height="1" fill="#000" fill-opacity="0.054"/><rect x="51" y="299" width="1" height="1" fill="#000" fill-opacity="0.364"/><rect x="51" y="300" width="1" height="1" fill="#000" fill-opacity="0.184"/><rect x="52" y="299" width="6" height="1" fill="#000" fill-opacity="0.551"/><rect x="52" y="300" width="6" height="1" fill="#000" fill-opacity="0.279"/><rect x="58" y="299" width="1" height="1" fill="#000" fill-opacity="0.342"/><rect x="58" y="300" width="1" height="1" fill="#000" fill-opacity="0.173"/><rect x="51" y="209" width="1" height="1" fill="#000" fill-opacity="0.237"/><rect x="51" y="210" width="1" height="1" fill="#000" fill-opacity="0.311"/><rect x="52" y="209" width="6" height="1" fill="#000" fill-opacity="0.359"/><rect x="52" y="210" width="6" height="1" fill="#000" fill-opacity="0.471"/><rect x="58" y="209" width="1" height="1" fill="#000" fill-opacity="0.223"/><rect x="58" y="210" width="1" height="1" fill="#000" fill-opacity="0.292"/><rect x="51" y="119" width="1" height="1" fill="#000" fill-opacity="0.110"/><rect x="51" y="120" width="1" height="1" fill="#000" fill-opacity="0.437"/><rect x="52" y="119" width="6" height="1" fill="#000" fill-opacity="0.167"/><rect x="52" y="120" width="6" height="1" fill="#000" fill-opacity="0.663"/><rect x="58" y="119" width="1" height="1" fill="#000" fill-opacity="0.104"/><rect x="58" y="120" width="1" height="1" fill="#000" fill-opacity="0.411"/></g>
<rect x="59" y="567" width="631" height="1" fill="#aa3737" shape-rendering="crispEdges"/>
<polyline points="94.08,161.59 105.76,156.21 117.44,152.62 129.12,152.62 140.80,149.02 152.48,177.75 164.16,159.80 175.84,145.43 187.52,145.43 199.20,145.43 210.88,129.28 222.56,129.28 234.24,168.77 245.92,143.64 257.60,109.53 269.28,120.30 280.96,156.21 292.64,93.37 304.32,147.23 316.00,156.21 327.68,175.96 339.36,116.71 351.04,131.07 362.72,175.96 374.40,199.30 386.08,80.80 397.76,113.12 409.44,177.75 421.12,138.25 432.80,147.23 444.48,150.82 456.16,147.23 467.84,143.64 479.52,170.57 491.20,161.59 502.88,127.48 514.56,93.37 526.24,127.48 537.92,179.55 549.60,131.07 561.28,123.89 572.96,100.55 584.64,113.12 596.32,113.12 608.00,107.73 619.68,140.05 631.36,136.46 643.04,136.46 654.72,122.09 666.40,102.34" fill="none" stroke="#00008b" stroke-width="0.88" stroke-linejoin="round"/>
<polyline points="94.08,583.51 105.76,578.12 117.44,583.51 129.12,567.35 140.80,619.41 152.48,594.28 164.16,570.94 175.84,558.37 187.52,565.55 199.20,576.32 210.88,520.67 222.56,601.46 234.24,596.07 245.92,583.51 257.60,587.10 269.28,596.07 280.96,596.07 292.64,583.51 304.32,561.96 316.00,623.00 327.68,552.98 339.36,567.35 351.04,621.21 362.72,612.23 374.40,576.32 386.08,617.62 397.76,558.37 409.44,624.80 421.12,617.62 432.80,603.26 444.48,619.41 456.16,597.87 467.84,603.26 479.52,597.87 491.20,552.98 502.88,588.89 514.56,570.94 526.24,561.96 537.92,590.69 549.60,581.71 561.28,578.12 572.96,581.71 584.64,587.10 596.32,551.19 608.00,563.76 619.68,574.53 631.36,594.28 643.04,547.60 654.72,619.41 666.40,615.82" fill="none" stroke="#00008b" stroke-width="0.88" stroke-linejoin="round"/>
<g font-size="12" fill="#000" text-anchor="middle"><text transform="translate(82.40,672) scale(1,0.91)">0</text><text transform="translate(140.80,672) scale(1,0.91)">5</text><text transform="translate(199.20,672) scale(1,0.91)">10</text><text transform="translate(257.60,672) scale(1,0.91)">15</text><text transform="translate(316.00,672) scale(1,0.91)">20</text><text transform="translate(374.40,672) scale(1,0.91)">25</text><text transform="translate(432.80,672) scale(1,0.91)">30</text><text transform="translate(491.20,672) scale(1,0.91)">35</text><text transform="translate(549.60,672) scale(1,0.91)">40</text><text transform="translate(608.00,672) scale(1,0.91)">45</text><text transform="translate(666.40,672) scale(1,0.91)">50</text></g>
<g font-size="12" fill="#000" text-anchor="end"><text transform="translate(44.6,573.44) scale(1,0.91)">0</text><text transform="translate(44.6,483.67) scale(1,0.91)">50</text><text transform="translate(44.6,393.91) scale(1,0.91)">100</text><text transform="translate(44.6,304.14) scale(1,0.91)">150</text><text transform="translate(44.6,214.37) scale(1,0.91)">200</text><text transform="translate(44.6,124.60) scale(1,0.91)">250</text></g>
<text x="374.4" y="700.8" font-size="12" text-anchor="middle">Cycle</text>
<text transform="translate(13.3,352.8) rotate(-90)" font-size="12" text-anchor="middle">Fluorescent</text>
<g fill="#00008b" shape-rendering="crispEdges">
<rect x="69" y="73" width="1" height="1" fill-opacity="0.4"/><rect x="70" y="73" width="22" height="1" fill-opacity="0.745"/>
<rect x="70" y="72" width="22" height="1" fill-opacity="0.05"/><rect x="70" y="74" width="22" height="1" fill-opacity="0.05"/>
<rect x="69" y="87" width="1" height="1" fill-opacity="0.3"/><rect x="70" y="87" width="22" height="1" fill-opacity="0.55"/>
<rect x="69" y="88" width="1" height="1" fill-opacity="0.15"/><rect x="70" y="88" width="22" height="1" fill-opacity="0.27"/>
</g>
<g font-size="12" fill="#000"><text x="102" y="78">CM</text><text transform="translate(120.65625,78) scale(1,0.91)">022293</text><text x="160.703125" y="78">_(</text><text transform="translate(171.375,78) scale(1,0.91)">7</text><text x="178.046875" y="78">:</text><text transform="translate(181.375,78) scale(1,0.91)">11</text><text x="193.828125" y="78">)</text>
<text x="102" y="92">CM</text><text transform="translate(120.65625,92) scale(1,0.91)">022299</text><text x="160.703125" y="92">_(</text><text transform="translate(171.375,92) scale(1,0.91)">7</text><text x="178.046875" y="92">:</text><text transform="translate(181.375,92) scale(1,0.91)">11</text><text x="193.828125" y="92">)</text></g>
<g fill="#fff" shape-rendering="crispEdges"><rect x="239" y="33" width="1" height="1" fill-opacity="1.0"/><rect x="240" y="33" width="1" height="1" fill-opacity="1.0"/><rect x="241" y="33" width="1" height="1" fill-opacity="0.471"/><rect x="243" y="33" width="1" height="1" fill-opacity="0.082"/><rect x="244" y="33" width="1" height="1" fill-opacity="1.0"/><rect x="245" y="33" width="1" height="1" fill-opacity="1.0"/><rect x="246" y="33" width="1" height="1" fill-opacity="1.0"/><rect x="239" y="34" width="1" height="1" fill-opacity="1.0"/><rect x="240" y="34" width="1" height="1" fill-opacity="1.0"/><rect x="241" y="34" width="1" height="1" fill-opacity="0.788"/><rect x="243" y="34" width="1" height="1" fill-opacity="0.294"/><rect x="244" y="34" width="1" height="1" fill-opacity="1.0"/><rect x="245" y="34" width="1" height="1" fill-opacity="1.0"/><rect x="246" y="34" width="1" height="1" fill-opacity="1.0"/><rect x="246" y="33" width="1" height="1" fill-opacity="1.0"/><rect x="247" y="33" width="1" height="1" fill-opacity="1.0"/><rect x="248" y="33" width="1" height="1" fill-opacity="1.0"/><rect x="249" y="33" width="1" height="1" fill-opacity="0.012"/><rect x="251" y="33" width="1" height="1" fill-opacity="1.0"/><rect x="252" y="33" width="1" height="1" fill-opacity="1.0"/><rect x="253" y="33" width="1" height="1" fill-opacity="1.0"/><rect x="246" y="34" width="1" height="1" fill-opacity="1.0"/><rect x="247" y="34" width="1" height="1" fill-opacity="1.0"/><rect x="248" y="34" width="1" height="1" fill-opacity="1.0"/><rect x="249" y="34" width="1" height="1" fill-opacity="0.051"/><rect x="250" y="34" width="1" height="1" fill-opacity="0.035"/><rect x="251" y="34" width="1" height="1" fill-opacity="1.0"/><rect x="252" y="34" width="1" height="1" fill-opacity="1.0"/><rect x="253" y="34" width="1" height="1" fill-opacity="1.0"/><rect x="332" y="33" width="1" height="1" fill-opacity="1.0"/><rect x="333" y="33" width="1" height="1" fill-opacity="1.0"/><rect x="334" y="33" width="1" height="1" fill-opacity="0.216"/><rect x="336" y="33" width="1" height="1" fill-opacity="0.207"/><rect x="337" y="33" width="1" height="1" fill-opacity="1.0"/><rect x="338" y="33" width="1" height="1" fill-opacity="1.0"/><rect x="332" y="34" width="1" height="1" fill-opacity="1.0"/><rect x="333" y="34" width="1" height="1" fill-opacity="1.0"/><rect x="334" y="34" width="1" height="1" fill-opacity="0.545"/><rect x="336" y="34" width="1" height="1" fill-opacity="0.533"/><rect x="337" y="34" width="1" height="1" fill-opacity="1.0"/><rect x="338" y="34" width="1" height="1" fill-opacity="1.0"/><rect x="339" y="33" width="1" height="1" fill-opacity="1.0"/><rect x="340" y="33" width="1" height="1" fill-opacity="1.0"/><rect x="341" y="33" width="1" height="1" fill-opacity="0.216"/><rect x="343" y="33" width="1" height="1" fill-opacity="0.207"/><rect x="344" y="33" width="1" height="1" fill-opacity="1.0"/><rect x="345" y="33" width="1" height="1" fill-opacity="1.0"/><rect x="339" y="34" width="1" height="1" fill-opacity="1.0"/><rect x="340" y="34" width="1" height="1" fill-opacity="1.0"/><rect x="341" y="34" width="1" height="1" fill-opacity="0.545"/><rect x="343" y="34" width="1" height="1" fill-opacity="0.533"/><rect x="344" y="34" width="1" height="1" fill-opacity="1.0"/><rect x="345" y="34" width="1" height="1" fill-opacity="1.0"/><rect x="467" y="33" width="1" height="1" fill-opacity="1.0"/><rect x="468" y="33" width="1" height="1" fill-opacity="1.0"/><rect x="469" y="33" width="1" height="1" fill-opacity="0.216"/><rect x="471" y="33" width="1" height="1" fill-opacity="0.207"/><rect x="472" y="33" width="1" height="1" fill-opacity="1.0"/><rect x="473" y="33" width="1" height="1" fill-opacity="1.0"/><rect x="467" y="34" width="1" height="1" fill-opacity="1.0"/><rect x="468" y="34" width="1" height="1" fill-opacity="1.0"/><rect x="469" y="34" width="1" height="1" fill-opacity="0.545"/><rect x="471" y="34" width="1" height="1" fill-opacity="0.533"/><rect x="472" y="34" width="1" height="1" fill-opacity="1.0"/><rect x="473" y="34" width="1" height="1" fill-opacity="1.0"/><rect x="474" y="33" width="1" height="1" fill-opacity="1.0"/><rect x="475" y="33" width="1" height="1" fill-opacity="1.0"/><rect x="476" y="33" width="1" height="1" fill-opacity="0.216"/><rect x="478" y="33" width="1" height="1" fill-opacity="0.207"/><rect x="479" y="33" width="1" height="1" fill-opacity="1.0"/><rect x="480" y="33" width="1" height="1" fill-opacity="1.0"/><rect x="474" y="34" width="1" height="1" fill-opacity="1.0"/><rect x="475" y="34" width="1" height="1" fill-opacity="1.0"/><rect x="476" y="34" width="1" height="1" fill-opacity="0.545"/><rect x="478" y="34" width="1" height="1" fill-opacity="0.533"/><rect x="479" y="34" width="1" height="1" fill-opacity="1.0"/><rect x="480" y="34" width="1" height="1" fill-opacity="1.0"/><rect x="193" y="671" width="1" height="1" fill-opacity="1.0"/><rect x="194" y="671" width="1" height="1" fill-opacity="1.0"/><rect x="195" y="671" width="1" height="1" fill-opacity="0.44"/><rect x="196" y="671" width="1" height="1" fill-opacity="0.36"/><rect x="197" y="671" width="1" height="1" fill-opacity="1.0"/><rect x="198" y="671" width="1" height="1" fill-opacity="1.0"/><rect x="251" y="671" width="1" height="1" fill-opacity="1.0"/><rect x="252" y="671" width="1" height="1" fill-opacity="1.0"/><rect x="253" y="671" width="1" height="1" fill-opacity="1.0"/><rect x="254" y="671" width="1" height="1" fill-opacity="0.016"/><rect x="255" y="671" width="1" height="1" fill-opacity="1.0"/><rect x="256" y="671" width="1" height="1" fill-opacity="1.0"/><rect x="257" y="671" width="1" height="1" fill-opacity="1.0"/><rect x="25" y="393" width="1" height="1" fill-opacity="1.0"/><rect x="26" y="393" width="1" height="1" fill-opacity="1.0"/><rect x="27" y="393" width="1" height="1" fill-opacity="0.44"/><rect x="28" y="393" width="1" height="1" fill-opacity="0.36"/><rect x="29" y="393" width="1" height="1" fill-opacity="1.0"/><rect x="30" y="393" width="1" height="1" fill-opacity="1.0"/><rect x="25" y="303" width="1" height="1" fill-opacity="1.0"/><rect x="26" y="303" width="1" height="1" fill-opacity="1.0"/><rect x="27" y="303" width="1" height="1" fill-opacity="0.44"/><rect x="28" y="303" width="1" height="1" fill-opacity="0.36"/><rect x="29" y="303" width="1" height="1" fill-opacity="1.0"/><rect x="30" y="303" width="1" height="1" fill-opacity="1.0"/><rect x="182" y="77" width="1" height="1" fill-opacity="1.0"/><rect x="183" y="77" width="1" height="1" fill-opacity="1.0"/><rect x="184" y="77" width="1" height="1" fill-opacity="0.44"/><rect x="185" y="77" width="1" height="1" fill-opacity="0.36"/><rect x="186" y="77" width="1" height="1" fill-opacity="1.0"/><rect x="187" y="77" width="1" height="1" fill-opacity="1.0"/><rect x="188" y="77" width="1" height="1" fill-opacity="1.0"/><rect x="189" y="77" width="1" height="1" fill-opacity="1.0"/><rect x="190" y="77" width="1" height="1" fill-opacity="0.219"/><rect x="191" y="77" width="1" height="1" fill-opacity="0.612"/><rect x="192" y="77" width="1" height="1" fill-opacity="1.0"/><rect x="193" y="77" width="1" height="1" fill-opacity="1.0"/><rect x="182" y="91" width="1" height="1" fill-opacity="1.0"/><rect x="183" y="91" width="1" height="1" fill-opacity="1.0"/><rect x="184" y="91" width="1" height="1" fill-opacity="0.44"/><rect x="185" y="91" width="1" height="1" fill-opacity="0.36"/><rect x="186" y="91" width="1" height="1" fill-opacity="1.0"/><rect x="187" y="91" width="1" height="1" fill-opacity="1.0"/><rect x="188" y="91" width="1" height="1" fill-opacity="1.0"/><rect x="189" y="91" width="1" height="1" fill-opacity="1.0"/><rect x="190" y="91" width="1" height="1" fill-opacity="0.219"/><rect x="191" y="91" width="1" height="1" fill-opacity="0.612"/><rect x="192" y="91" width="1" height="1" fill-opacity="1.0"/><rect x="193" y="91" width="1" height="1" fill-opacity="1.0"/></g>
</svg>
</body></html>
